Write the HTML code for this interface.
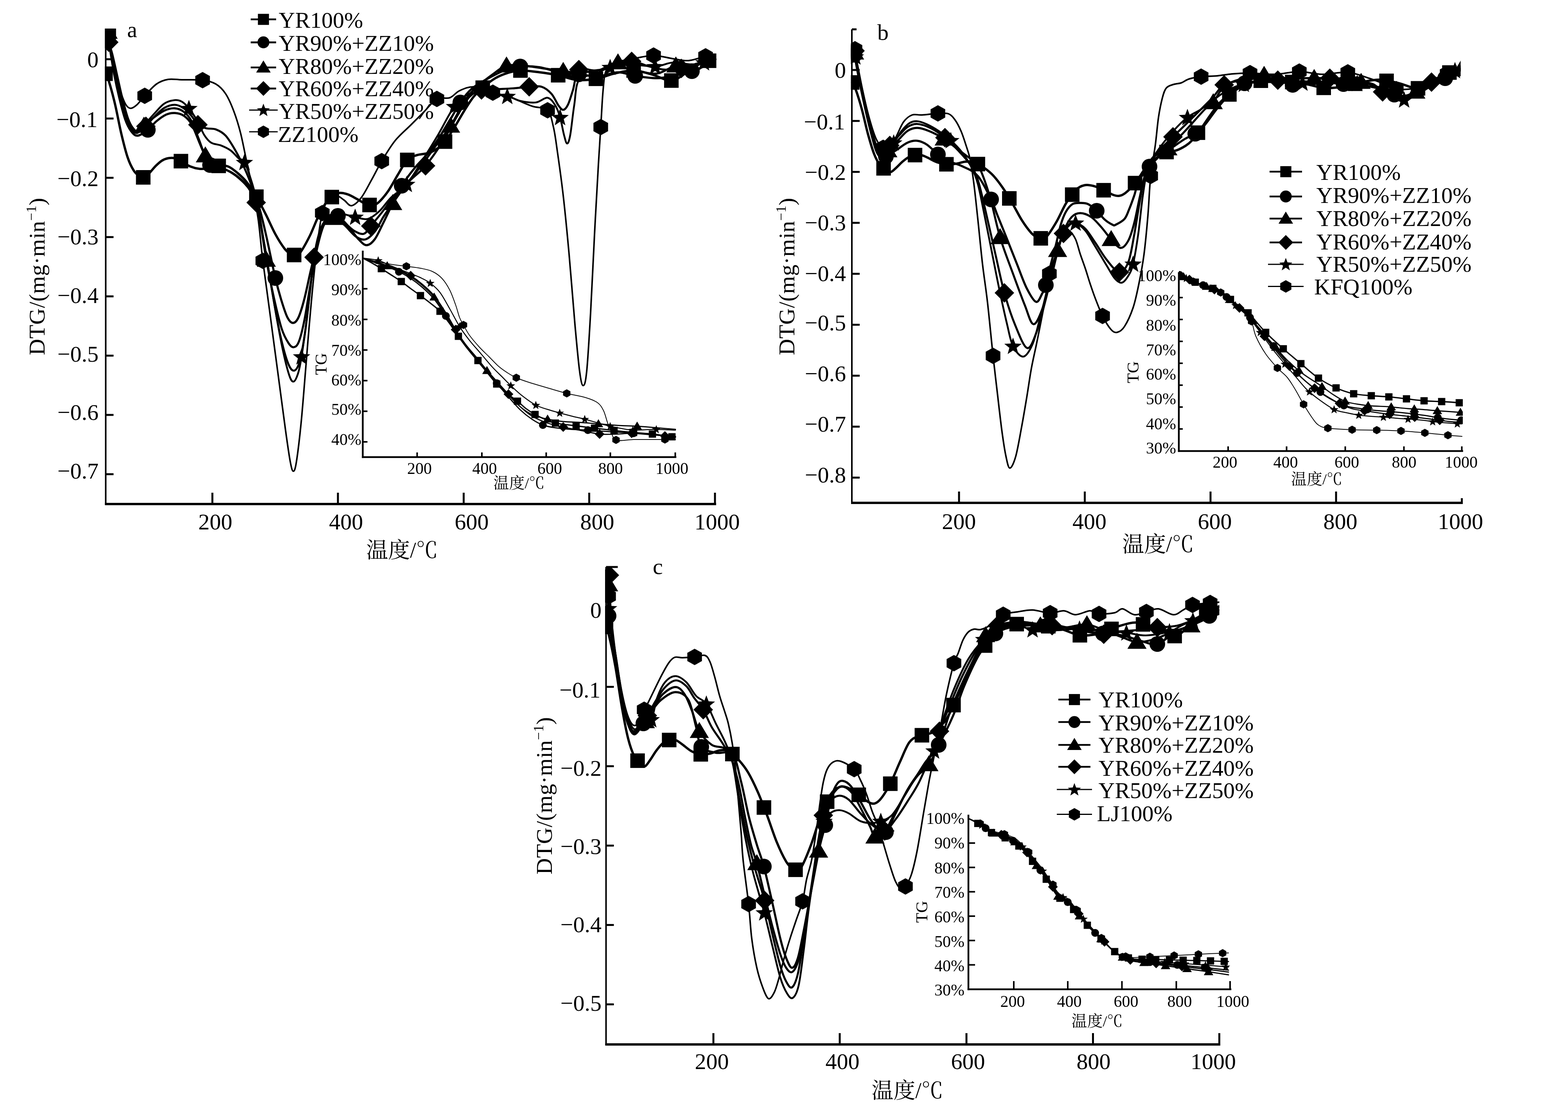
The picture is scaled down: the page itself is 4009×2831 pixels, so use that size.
<!DOCTYPE html>
<html lang="zh">
<head>
<meta charset="utf-8">
<title>DTG / TG</title>
<style>
html,body{margin:0;padding:0;background:#fff;}
body{width:4009px;height:2831px;overflow:hidden;}
svg{display:block;}
text{font-family:'Liberation Serif', 'Noto Serif CJK SC', serif;fill:#000;}
</style>
</head>
<body>
<svg xmlns="http://www.w3.org/2000/svg" width="4009" height="2831" viewBox="0 0 4009 2831">
<rect width="4009" height="2831" fill="#fff"/>
<g stroke="#000" fill="none" stroke-linecap="butt">
<line x1="270.3" y1="76" x2="270.3" y2="1291" stroke-width="4"/>
<line x1="268.3" y1="1289" x2="1831" y2="1289" stroke-width="6"/>
<line x1="543" y1="1289" x2="543" y2="1260" stroke-width="5"/>
<line x1="864" y1="1289" x2="864" y2="1260" stroke-width="5"/>
<line x1="1185.5" y1="1289" x2="1185.5" y2="1260" stroke-width="5"/>
<line x1="1506.5" y1="1289" x2="1506.5" y2="1260" stroke-width="5"/>
<line x1="1828" y1="1289" x2="1828" y2="1260" stroke-width="5"/>
<line x1="270.3" y1="151.5" x2="290.3" y2="151.5" stroke-width="5"/>
<line x1="270.3" y1="303.1" x2="290.3" y2="303.1" stroke-width="5"/>
<line x1="270.3" y1="454.7" x2="290.3" y2="454.7" stroke-width="5"/>
<line x1="270.3" y1="606.3" x2="290.3" y2="606.3" stroke-width="5"/>
<line x1="270.3" y1="757.9" x2="290.3" y2="757.9" stroke-width="5"/>
<line x1="270.3" y1="909.5" x2="290.3" y2="909.5" stroke-width="5"/>
<line x1="270.3" y1="1061.1" x2="290.3" y2="1061.1" stroke-width="5"/>
<line x1="270.3" y1="1212.7" x2="290.3" y2="1212.7" stroke-width="5"/>
</g>
<text x="251.9" y="172" font-size="58" text-anchor="end">0</text>
<text x="249.5" y="325" font-size="58" text-anchor="end">−0.1</text>
<text x="251.9" y="475.5" font-size="58" text-anchor="end">−0.2</text>
<text x="251.9" y="625" font-size="58" text-anchor="end">−0.3</text>
<text x="251.9" y="774.5" font-size="58" text-anchor="end">−0.4</text>
<text x="251.9" y="925" font-size="58" text-anchor="end">−0.5</text>
<text x="251.9" y="1074" font-size="58" text-anchor="end">−0.6</text>
<text x="251.9" y="1224" font-size="58" text-anchor="end">−0.7</text>
<text x="550.4" y="1353.5" font-size="58" text-anchor="middle">200</text>
<text x="884.7" y="1353.5" font-size="58" text-anchor="middle">400</text>
<text x="1206" y="1353.5" font-size="58" text-anchor="middle">600</text>
<text x="1527" y="1353.5" font-size="58" text-anchor="middle">800</text>
<text x="1833.5" y="1353.5" font-size="58" text-anchor="middle">1000</text>
<text x="1028" y="1426" font-size="56" text-anchor="middle">温度/<tspan font-family="Noto Serif CJK SC">℃</tspan></text>
<text x="114" y="707" font-size="58" text-anchor="middle" transform="rotate(-90 114 707)" letter-spacing="0.5">DTG/(mg·min<tspan font-size="36" dy="-22">−1</tspan><tspan dy="22">)</tspan></text>
<text x="325" y="95" font-size="58" text-anchor="start">a</text>
<clipPath id="c1"><rect x="268" y="73" width="1564" height="1216"/></clipPath>
<g clip-path="url(#c1)">
<g stroke="#000" fill="none" stroke-linejoin="round" stroke-linecap="round">
<path d="M269.7 188.6C271.1 191.5 273.7 193.3 277.8 206C281.8 218.8 288.5 242.7 293.8 265.1C299.2 287.6 304.6 318.1 309.9 340.9C315.3 363.6 320.6 385.6 326 401.5C331.3 417.4 336.7 428 342.1 436.3C347.4 444.7 353.6 448.4 358.1 451.5C362.7 454.5 365.4 456 369.4 454.5C373.4 453 377.4 447.4 382.2 442.4C387.1 437.3 393 429.5 398.3 424.2C403.7 418.9 409 413.8 414.4 410.6C419.8 407.3 425.1 405.5 430.5 404.5C435.8 403.5 441.2 403.2 446.5 404.5C451.9 405.8 455.9 408.5 462.6 412.1C469.3 415.6 478.7 422.4 486.7 425.7C494.8 429 502.8 431 510.8 431.8C518.9 432.5 526.9 431.5 535 430.3C543 429 551 425 559.1 424.2C567.1 423.4 575.1 422.7 583.2 425.7C591.2 428.7 599.3 435.6 607.3 442.4C615.3 449.2 623.4 456.5 631.4 466.6C639.4 476.7 647.5 489.3 655.5 503C663.6 516.6 671.6 532.5 679.6 548.4C687.7 564.3 695.7 583.8 703.8 598.4C711.8 613.1 721.2 627.7 727.9 636.3C734.6 644.9 739.4 647.2 743.9 649.9C748.5 652.7 751.2 653.7 755.2 653C759.2 652.2 761.9 653.7 768 645.4C774.2 637.1 784.1 619.1 792.2 603C800.2 586.8 808.2 564.1 816.3 548.4C824.3 532.8 832.3 518.1 840.4 509C848.4 499.9 856.5 495.9 864.5 493.9C872.5 491.9 880.6 494.4 888.6 496.9C896.6 499.4 904.7 504.7 912.7 509C920.8 513.3 930.1 519.9 936.8 522.7C943.5 525.5 947.6 526.7 952.9 525.7C958.3 524.7 962.3 522.9 969 516.6C975.7 510.3 985.1 499.4 993.1 487.8C1001.1 476.2 1009.2 460.1 1017.2 446.9C1025.2 433.8 1033.3 417.4 1041.3 409.1C1049.4 400.7 1056.1 400 1065.4 396.9C1074.8 393.9 1088.2 394.2 1097.6 390.9C1107 387.6 1115 382 1121.7 377.2C1128.4 372.4 1131.1 370.7 1137.8 362.1C1144.5 353.5 1153.8 338.6 1161.9 325.7C1169.9 312.8 1178 297.7 1186 284.8C1194 271.9 1202.1 258.6 1210.1 248.5C1218.1 238.4 1224.8 232.3 1234.2 224.2C1243.6 216.1 1255.7 206.3 1266.4 200C1277.1 193.7 1287.8 189.6 1298.5 186.3C1309.2 183.1 1317.3 180.5 1330.7 180.3C1344.1 180 1362.8 182.8 1378.9 184.8C1395 186.8 1411 189.1 1427.1 192.4C1443.2 195.7 1459.3 203 1475.3 204.5C1491.4 206 1507.5 204.3 1523.6 201.5C1539.7 198.7 1555.7 191.4 1571.8 187.9C1587.9 184.3 1603.9 179.8 1620 180.3C1636.1 180.8 1652.2 186.6 1668.2 190.9C1684.3 195.2 1701.7 207 1716.5 206C1731.2 205 1743.3 192.7 1756.7 184.8C1770.1 177 1784.8 164.6 1796.8 159.1C1808.9 153.5 1823.6 152.8 1829 151.5" stroke-width="6"/>
<path d="M277 95C277.8 100.8 279.5 114.2 282 130C284.5 145.8 288.2 170 292 190C295.8 210 300.3 230.8 305 250C309.7 269.2 315 290.8 320 305C325 319.2 329.7 328 335 335C340.3 342 344.8 347.5 352 347C359.2 346.5 370 338.2 378 332C386 325.8 392.2 316.5 400 310C407.8 303.5 417.2 296.5 425 293C432.8 289.5 439.5 288.5 447 289C454.5 289.5 462.8 291.2 470 296C477.2 300.8 483.3 306.5 490 318C496.7 329.5 504.2 351.3 510 365C515.8 378.7 520.5 390.5 525 400C529.5 409.5 531.2 417.3 537 422C542.8 426.7 551.2 425 560 428C568.8 431 580.8 435 590 440C599.2 445 606.7 450.5 615 458C623.3 465.5 632.5 474.3 640 485C647.5 495.7 653.3 502.8 660 522C666.7 541.2 672.7 568.5 680 600C687.3 631.5 697.3 682.7 704 711C710.7 739.3 714.8 753.2 720 770C725.2 786.8 730.2 802.7 735 812C739.8 821.3 744.3 826 749 826C753.7 826 758.2 822.2 763 812C767.8 801.8 772.7 785.3 778 765C783.3 744.7 789.3 714.2 795 690C800.7 665.8 806.2 640.8 812 620C817.8 599.2 823.7 577 830 565C836.3 553 844.3 550.2 850 548C855.7 545.8 857.3 547 864 552C870.7 557 881.5 568.3 890 578C898.5 587.7 907.2 601.8 915 610C922.8 618.2 929.8 626.7 937 627C944.2 627.3 950.8 621.5 958 612C965.2 602.5 972.3 585.3 980 570C987.7 554.7 996.2 535.8 1004 520C1011.8 504.2 1017.7 490 1027 475C1036.3 460 1047.8 445 1060 430C1072.2 415 1086.7 402.5 1100 385C1113.3 367.5 1127.2 345.5 1140 325C1152.8 304.5 1166.2 278.2 1177 262C1187.8 245.8 1194.5 237.5 1205 228C1215.5 218.5 1225.8 213 1240 205C1254.2 197 1275 185.8 1290 180C1305 174.2 1315 171.3 1330 170C1345 168.7 1363.3 169.5 1380 172C1396.7 174.5 1413.3 182 1430 185C1446.7 188 1463.3 188.3 1480 190C1496.7 191.7 1513.3 195.8 1530 195C1546.7 194.2 1564.3 185.2 1580 185C1595.7 184.8 1607.3 191.5 1624 194C1640.7 196.5 1662.3 200.3 1680 200C1697.7 199.7 1715.2 195 1730 192C1744.8 189 1757.3 185.7 1769 182C1780.7 178.3 1790.2 173.7 1800 170C1809.8 166.3 1823.3 161.7 1828 160" stroke-width="5.5"/>
<path d="M276.5 82C277.8 90.8 280.9 116.7 284 135C287.1 153.3 291 172.8 295 192C299 211.2 303.3 231.7 308 250C312.7 268.3 318.2 288.7 323 302C327.8 315.3 332.3 323.7 337 330C341.7 336.3 345.8 341.3 351 340C356.2 338.7 361.5 328.2 368 322C374.5 315.8 381.3 309.5 390 303C398.7 296.5 410.5 287.3 420 283C429.5 278.7 438.7 276.5 447 277C455.3 277.5 462.8 280.5 470 286C477.2 291.5 483.7 298.5 490 310C496.3 321.5 502.2 340.3 508 355C513.8 369.7 518.8 387.2 525 398C531.2 408.8 535.8 413.8 545 420C554.2 426.2 569.2 429.2 580 435C590.8 440.8 600 446.2 610 455C620 463.8 631.7 473.8 640 488C648.3 502.2 653.2 510.5 660 540C666.8 569.5 674.3 628.3 681 665C687.7 701.7 693.5 730.8 700 760C706.5 789.2 713.7 820.3 720 840C726.3 859.7 732.8 870 738 878C743.2 886 746.7 888.7 751 888C755.3 887.3 759.5 885.3 764 874C768.5 862.7 772.8 845.7 778 820C783.2 794.3 789.3 751.7 795 720C800.7 688.3 806.2 654.7 812 630C817.8 605.3 823 584 830 572C837 560 845.7 557.5 854 558C862.3 558.5 870.7 567.2 880 575C889.3 582.8 900.8 598.8 910 605C919.2 611.2 926.7 614.5 935 612C943.3 609.5 952.5 599.5 960 590C967.5 580.5 972.7 566.7 980 555C987.3 543.3 994 534.2 1004 520C1014 505.8 1027.3 486.7 1040 470C1052.7 453.3 1066.7 437.5 1080 420C1093.3 402.5 1108 381.3 1120 365C1132 348.7 1140.3 340.3 1152 322C1163.7 303.7 1178.7 271.7 1190 255C1201.3 238.3 1208.3 232.8 1220 222C1231.7 211.2 1247.5 199 1260 190C1272.5 181 1281.7 171.7 1295 168C1308.3 164.3 1324.2 166.8 1340 168C1355.8 169.2 1373.3 172.7 1390 175C1406.7 177.3 1425 180.3 1440 182C1455 183.7 1465 185.3 1480 185C1495 184.7 1513.3 184.2 1530 180C1546.7 175.8 1563.3 160 1580 160C1596.7 160 1613.3 175.3 1630 180C1646.7 184.7 1663.7 190 1680 188C1696.3 186 1711.3 171.8 1728 168C1744.7 164.2 1763.3 167.2 1780 165C1796.7 162.8 1820 156.7 1828 155" stroke-width="5.3"/>
<path d="M278 108C279.5 113 283.3 123.5 287 138C290.7 152.5 295.7 176 300 195C304.3 214 308.5 234.2 313 252C317.5 269.8 322.5 289.3 327 302C331.5 314.7 335.5 322 340 328C344.5 334 348.5 338.8 354 338C359.5 337.2 366.2 329.7 373 323C379.8 316.3 387.2 305.8 395 298C402.8 290.2 411.3 281 420 276C428.7 271 438.7 267.8 447 268C455.3 268.2 462.8 272.2 470 277C477.2 281.8 484 290 490 297C496 304 499.8 313.8 506 319C512.2 324.2 519.3 326 527 328C534.7 330 543.7 327.8 552 331C560.3 334.2 568.7 338 577 347C585.3 356 594 371.2 602 385C610 398.8 617.8 414.2 625 430C632.2 445.8 640 465.3 645 480C650 494.7 650 494.7 655 518C660 541.3 668.3 583 675 620C681.7 657 688.3 701.7 695 740C701.7 778.3 708.3 819.2 715 850C721.7 880.8 729 908.7 735 925C741 941.3 745.8 948 751 948C756.2 948 761.2 941.3 766 925C770.8 908.7 775.7 879.2 780 850C784.3 820.8 788.2 782 792 750C795.8 718 799.2 683 803 658C806.8 633 810.5 615.3 815 600C819.5 584.7 824.2 573.5 830 566C835.8 558.5 842.5 555.2 850 555C857.5 554.8 865.8 559.2 875 565C884.2 570.8 895.8 584.5 905 590C914.2 595.5 922.8 600 930 598C937.2 596 940.5 586.8 948 578C955.5 569.2 964.7 558 975 545C985.3 532 997.5 514.2 1010 500C1022.5 485.8 1037 472.7 1050 460C1063 447.3 1074.7 439.8 1088 424C1101.3 408.2 1116.3 386.5 1130 365C1143.7 343.5 1158.3 314.5 1170 295C1181.7 275.5 1189.8 258.8 1200 248C1210.2 237.2 1219.3 233.3 1231 230C1242.7 226.7 1256.8 228.7 1270 228C1283.2 227.3 1296.2 227 1310 226C1323.8 225 1340.5 222.7 1353 222C1365.5 221.3 1375.5 219 1385 222C1394.5 225 1402.8 232 1410 240C1417.2 248 1423 263.2 1428 270C1433 276.8 1436 281.3 1440 281C1444 280.7 1447.8 276.5 1452 268C1456.2 259.5 1460.3 245 1465 230C1469.7 215 1470.8 186.3 1480 178C1489.2 169.7 1505 181 1520 180C1535 179 1554.2 175.8 1570 172C1585.8 168.2 1600 157.3 1615 157C1630 156.7 1645.8 166.5 1660 170C1674.2 173.5 1686.3 177.2 1700 178C1713.7 178.8 1727 178 1742 175C1757 172 1775.7 163.8 1790 160C1804.3 156.2 1821.7 153.3 1828 152" stroke-width="5.2"/>
<path d="M277 100C278.3 106 281.7 120.5 285 136C288.3 151.5 292.8 174 297 193C301.2 212 305.3 232.2 310 250C314.7 267.8 320.2 287.3 325 300C329.8 312.7 334.5 320.2 339 326C343.5 331.8 346.8 336.3 352 335C357.2 333.7 362.8 325.5 370 318C377.2 310.5 386.7 298.8 395 290C403.3 281.2 411.3 270.7 420 265C428.7 259.3 439.5 256.8 447 256C454.5 255.2 459 256.5 465 260C471 263.5 476.3 268.7 483 277C489.7 285.3 498.5 298.7 505 310C511.5 321.3 516.2 335.8 522 345C527.8 354.2 532.8 360.5 540 365C547.2 369.5 556.7 368.7 565 372C573.3 375.3 582.5 379.5 590 385C597.5 390.5 604.2 400 610 405C615.8 410 619.2 404.2 625 415C630.8 425.8 639.2 450.8 645 470C650.8 489.2 654.2 500 660 530C665.8 560 673.3 610 680 650C686.7 690 693.3 731.7 700 770C706.7 808.3 713.7 849.2 720 880C726.3 910.8 733 939 738 955C743 971 746 976 750 976C754 976 758.5 965.7 762 955C765.5 944.3 767.2 936.2 771 912C774.8 887.8 780.5 845.3 785 810C789.5 774.7 793.5 731.7 798 700C802.5 668.3 806.7 641.7 812 620C817.3 598.3 822.8 582.5 830 570C837.2 557.5 846.7 548.7 855 545C863.3 541.3 871.2 546.3 880 548C888.8 549.7 898 553 908 555C918 557 929.7 562.5 940 560C950.3 557.5 960 549.2 970 540C980 530.8 988.3 516.5 1000 505C1011.7 493.5 1026.7 486.8 1040 471C1053.3 455.2 1066.7 431 1080 410C1093.3 389 1106.3 368 1120 345C1133.7 322 1148.7 289.5 1162 272C1175.3 254.5 1187 245.3 1200 240C1213 234.7 1223.8 239 1240 240C1256.2 241 1282 243 1297 246C1312 249 1317.8 255.3 1330 258C1342.2 260.7 1358.3 263.3 1370 262C1381.7 260.7 1391.7 248.7 1400 250C1408.3 251.3 1414.7 261.7 1420 270C1425.3 278.3 1428.3 287.5 1432 300C1435.7 312.5 1439 333.8 1442 345C1445 356.2 1447.3 367 1450 367C1452.7 367 1455 361.2 1458 345C1461 328.8 1464.3 293.3 1468 270C1471.7 246.7 1471.3 218.3 1480 205C1488.7 191.7 1506.7 195.5 1520 190C1533.3 184.5 1545 176.2 1560 172C1575 167.8 1590.8 165.3 1610 165C1629.2 164.7 1656.7 170.8 1675 170C1693.3 169.2 1704.2 160.8 1720 160C1735.8 159.2 1756.7 165 1770 165C1783.3 165 1790.3 161.7 1800 160C1809.7 158.3 1823.3 155.8 1828 155" stroke-width="4.7"/>
<path d="M278 80C278.8 88.3 280.2 111.7 283 130C285.8 148.3 290.5 171.7 295 190C299.5 208.3 305.5 227 310 240C314.5 253 318 261.8 322 268C326 274.2 329.3 277 334 277C338.7 277 344 273.3 350 268C356 262.7 361.7 253.8 370 245C378.3 236.2 390 222 400 215C410 208 419.2 204.8 430 203C440.8 201.2 450.3 203.7 465 204C479.7 204.3 503.5 203.2 518 205C532.5 206.8 542.2 209.2 552 215C561.8 220.8 569.3 228.3 577 240C584.7 251.7 591.7 268.3 598 285C604.3 301.7 609.7 319.2 615 340C620.3 360.8 625 386.7 630 410C635 433.3 640 455 645 480C650 505 655.5 528.8 660 560C664.5 591.2 667 627 672 667C677 707 683.7 752.8 690 800C696.3 847.2 703.3 900 710 950C716.7 1000 724.7 1061.7 730 1100C735.3 1138.3 738.7 1162.5 742 1180C745.3 1197.5 747.3 1205 750 1205C752.7 1205 754.7 1200.8 758 1180C761.3 1159.2 766.2 1118.3 770 1080C773.8 1041.7 777.7 990 781 950C784.3 910 786.8 876.7 790 840C793.2 803.3 796.3 766.7 800 730C803.7 693.3 808 650.8 812 620C816 589.2 819.3 563.3 824 545C828.7 526.7 834 517.5 840 510C846 502.5 853.3 499.7 860 500C866.7 500.3 873.5 507.7 880 512C886.5 516.3 891.7 527.2 899 526C906.3 524.8 915.5 516 924 505C932.5 494 941.3 475.5 950 460C958.7 444.5 966 428.7 976 412C986 395.3 997.7 375.3 1010 360C1022.3 344.7 1037.5 332.5 1050 320C1062.5 307.5 1073.8 296.2 1085 285C1096.2 273.8 1106.2 258.8 1117 253C1127.8 247.2 1140.3 253.5 1150 250C1159.7 246.5 1164.7 236.7 1175 232C1185.3 227.3 1197.8 221.2 1212 222C1226.2 222.8 1246.2 233.2 1260 237C1273.8 240.8 1284.2 241.7 1295 245C1305.8 248.3 1313.8 252.5 1325 257C1336.2 261.5 1349.5 267.8 1362 272C1374.5 276.2 1391.2 273.2 1400 282C1408.8 290.8 1410.8 307.5 1415 325C1419.2 342.5 1420.8 357.8 1425 387C1429.2 416.2 1435 456.2 1440 500C1445 543.8 1450 595 1455 650C1460 705 1465.5 780 1470 830C1474.5 880 1478.5 924 1482 950C1485.5 976 1488 986 1491 986C1494 986 1496.8 981 1500 950C1503.2 919 1506.7 858.3 1510 800C1513.3 741.7 1516.7 663.3 1520 600C1523.3 536.7 1527.3 465.8 1530 420C1532.7 374.2 1534 356.7 1536 325C1538 293.3 1539.7 254.2 1542 230C1544.3 205.8 1544.5 191.7 1550 180C1555.5 168.3 1563.3 165 1575 160C1586.7 155 1604 153 1620 150C1636 147 1654.3 142 1671 142C1687.7 142 1705.2 147.8 1720 150C1734.8 152.2 1746 156 1760 155C1774 154 1792.7 146.5 1804 144C1815.3 141.5 1824 140.7 1828 140" stroke-width="4"/>
</g>
<g fill="#000">
<rect x="251.1" y="170" width="37.2" height="37.2"/>
<rect x="347.6" y="435" width="37.2" height="37.2"/>
<rect x="444" y="393.5" width="37.2" height="37.2"/>
<rect x="540.5" y="405.6" width="37.2" height="37.2"/>
<rect x="636.9" y="484.4" width="37.2" height="37.2"/>
<rect x="733.4" y="633.5" width="37.2" height="37.2"/>
<rect x="829.8" y="485.4" width="37.2" height="37.2"/>
<rect x="926.3" y="505.6" width="37.2" height="37.2"/>
<rect x="1022.7" y="390.4" width="37.2" height="37.2"/>
<rect x="1119.2" y="343.5" width="37.2" height="37.2"/>
<rect x="1215.6" y="205.6" width="37.2" height="37.2"/>
<rect x="1312.1" y="161.7" width="37.2" height="37.2"/>
<rect x="1408.5" y="173.8" width="37.2" height="37.2"/>
<rect x="1505" y="182.9" width="37.2" height="37.2"/>
<rect x="1601.4" y="161.7" width="37.2" height="37.2"/>
<rect x="1697.9" y="187.4" width="37.2" height="37.2"/>
<rect x="1794.3" y="136.7" width="37.2" height="37.2"/>
<circle cx="277" cy="95" r="20"/>
<circle cx="378" cy="332" r="20"/>
<circle cx="537" cy="422" r="20"/>
<circle cx="704" cy="711" r="20"/>
<circle cx="864" cy="552" r="20"/>
<circle cx="1027" cy="475" r="20"/>
<circle cx="1177" cy="262" r="20"/>
<circle cx="1330" cy="170" r="20"/>
<circle cx="1480" cy="190" r="20"/>
<circle cx="1624" cy="194" r="20"/>
<circle cx="1769" cy="182" r="20"/>
<polygon points="276.5,58.2 301,99.2 252,99.2"/>
<polygon points="368,298.2 392.5,339.2 343.5,339.2"/>
<polygon points="525,374.2 549.5,415.2 500.5,415.2"/>
<polygon points="681,641.2 705.5,682.2 656.5,682.2"/>
<polygon points="854,534.2 878.5,575.2 829.5,575.2"/>
<polygon points="1004,496.2 1028.5,537.2 979.5,537.2"/>
<polygon points="1152,298.2 1176.5,339.2 1127.5,339.2"/>
<polygon points="1295,144.2 1319.5,185.2 1270.5,185.2"/>
<polygon points="1440,158.2 1464.5,199.2 1415.5,199.2"/>
<polygon points="1580,136.2 1604.5,177.2 1555.5,177.2"/>
<polygon points="1728,144.2 1752.5,185.2 1703.5,185.2"/>
<polygon points="278,83 303,108 278,133 253,108"/>
<polygon points="373,298 398,323 373,348 348,323"/>
<polygon points="506,294 531,319 506,344 481,319"/>
<polygon points="655,493 680,518 655,543 630,518"/>
<polygon points="803,633 828,658 803,683 778,658"/>
<polygon points="948,553 973,578 948,603 923,578"/>
<polygon points="1088,399 1113,424 1088,449 1063,424"/>
<polygon points="1231,205 1256,230 1231,255 1206,230"/>
<polygon points="1353,197 1378,222 1353,247 1328,222"/>
<polygon points="1480,153 1505,178 1480,203 1455,178"/>
<polygon points="1615,132 1640,157 1615,182 1590,157"/>
<polygon points="1742,150 1767,175 1742,200 1717,175"/>
<polygon points="277,78.2 282.8,93.6 299.2,94.3 286.3,104.5 290.7,120.4 277,111.3 263.3,120.4 267.7,104.5 254.8,94.3 271.2,93.6"/>
<polygon points="483,255.2 488.8,270.6 505.2,271.3 492.3,281.5 496.7,297.4 483,288.3 469.3,297.4 473.7,281.5 460.8,271.3 477.2,270.6"/>
<polygon points="625,393.2 630.8,408.6 647.2,409.3 634.3,419.5 638.7,435.4 625,426.3 611.3,435.4 615.7,419.5 602.8,409.3 619.2,408.6"/>
<polygon points="771,890.2 776.8,905.6 793.2,906.3 780.3,916.5 784.7,932.4 771,923.3 757.3,932.4 761.7,916.5 748.8,906.3 765.2,905.6"/>
<polygon points="908,533.2 913.8,548.6 930.2,549.3 917.3,559.5 921.7,575.4 908,566.3 894.3,575.4 898.7,559.5 885.8,549.3 902.2,548.6"/>
<polygon points="1040,449.2 1045.8,464.6 1062.2,465.3 1049.3,475.5 1053.7,491.4 1040,482.3 1026.3,491.4 1030.7,475.5 1017.8,465.3 1034.2,464.6"/>
<polygon points="1162,250.2 1167.8,265.6 1184.2,266.3 1171.3,276.5 1175.7,292.4 1162,283.3 1148.3,292.4 1152.7,276.5 1139.8,266.3 1156.2,265.6"/>
<polygon points="1297,224.2 1302.8,239.6 1319.2,240.3 1306.3,250.5 1310.7,266.4 1297,257.3 1283.3,266.4 1287.7,250.5 1274.8,240.3 1291.2,239.6"/>
<polygon points="1432,278.2 1437.8,293.6 1454.2,294.3 1441.3,304.5 1445.7,320.4 1432,311.3 1418.3,320.4 1422.7,304.5 1409.8,294.3 1426.2,293.6"/>
<polygon points="1560,150.2 1565.8,165.6 1582.2,166.3 1569.3,176.5 1573.7,192.4 1560,183.3 1546.3,192.4 1550.7,176.5 1537.8,166.3 1554.2,165.6"/>
<polygon points="1675,148.2 1680.8,163.6 1697.2,164.3 1684.3,174.5 1688.7,190.4 1675,181.3 1661.3,190.4 1665.7,174.5 1652.8,164.3 1669.2,163.6"/>
<polygon points="1800,138.2 1805.8,153.6 1822.2,154.3 1809.3,164.5 1813.7,180.4 1800,171.3 1786.3,180.4 1790.7,164.5 1777.8,154.3 1794.2,153.6"/>
<polygon points="278,59 296.7,69.5 296.7,90.5 278,101 259.3,90.5 259.3,69.5"/>
<polygon points="370,224 388.7,234.5 388.7,255.5 370,266 351.3,255.5 351.3,234.5"/>
<polygon points="518,184 536.7,194.5 536.7,215.5 518,226 499.3,215.5 499.3,194.5"/>
<polygon points="672,646 690.7,656.5 690.7,677.5 672,688 653.3,677.5 653.3,656.5"/>
<polygon points="824,524 842.7,534.5 842.7,555.5 824,566 805.3,555.5 805.3,534.5"/>
<polygon points="976,391 994.7,401.5 994.7,422.5 976,433 957.3,422.5 957.3,401.5"/>
<polygon points="1117,232 1135.7,242.5 1135.7,263.5 1117,274 1098.3,263.5 1098.3,242.5"/>
<polygon points="1260,216 1278.7,226.5 1278.7,247.5 1260,258 1241.3,247.5 1241.3,226.5"/>
<polygon points="1400,261 1418.7,271.5 1418.7,292.5 1400,303 1381.3,292.5 1381.3,271.5"/>
<polygon points="1536,304 1554.7,314.5 1554.7,335.5 1536,346 1517.3,335.5 1517.3,314.5"/>
<polygon points="1671,121 1689.7,131.5 1689.7,152.5 1671,163 1652.3,152.5 1652.3,131.5"/>
<polygon points="1804,123 1822.7,133.5 1822.7,154.5 1804,165 1785.3,154.5 1785.3,133.5"/>
</g>
</g>
<g stroke="#000" fill="none">
<line x1="641" y1="49.5" x2="706" y2="49.5" stroke-width="4.7"/>
<line x1="641" y1="108.3" x2="706" y2="108.3" stroke-width="4.7"/>
<line x1="641" y1="172.5" x2="706" y2="172.5" stroke-width="4.7"/>
<line x1="641" y1="226.3" x2="706" y2="226.3" stroke-width="4.7"/>
<line x1="637" y1="281.5" x2="710" y2="281.5" stroke-width="2.8"/>
<line x1="637" y1="337" x2="710" y2="337" stroke-width="2.8"/>
</g>
<g fill="#000">
<rect x="659.4" y="35.4" width="28.3" height="28.3"/>
<circle cx="673.5" cy="108.3" r="15.2"/>
<polygon points="673.5,154.4 692.1,185.6 654.9,185.6"/>
<polygon points="673.5,207.3 692.5,226.3 673.5,245.3 654.5,226.3"/>
<polygon points="673.5,264.9 677.9,276.6 690.3,277.2 680.6,284.9 683.9,297 673.5,290.1 663.1,297 666.4,284.9 656.7,277.2 669.1,276.6"/>
<polygon points="673.5,321 687.7,329 687.7,345 673.5,353 659.3,345 659.3,329"/>
</g>
<text x="712.5" y="71.2" font-size="58" text-anchor="start">YR100%</text>
<text x="712.5" y="130.2" font-size="58" text-anchor="start">YR90%+ZZ10%</text>
<text x="712.5" y="188.8" font-size="58" text-anchor="start">YR80%+ZZ20%</text>
<text x="712.5" y="246.2" font-size="58" text-anchor="start">YR60%+ZZ40%</text>
<text x="712.5" y="303.5" font-size="58" text-anchor="start">YR50%+ZZ50%</text>
<text x="710.5" y="362.5" font-size="58" text-anchor="start">ZZ100%</text>
<g stroke="#000" fill="none" stroke-linecap="butt">
<line x1="927.5" y1="641" x2="927.5" y2="1171.2" stroke-width="4.5"/>
<line x1="925.2" y1="1169" x2="1729.2" y2="1169" stroke-width="4.5"/>
<line x1="1066.5" y1="1169" x2="1066.5" y2="1157" stroke-width="4"/>
<line x1="1232" y1="1169" x2="1232" y2="1157" stroke-width="4"/>
<line x1="1396.5" y1="1169" x2="1396.5" y2="1157" stroke-width="4"/>
<line x1="1560.5" y1="1169" x2="1560.5" y2="1157" stroke-width="4"/>
<line x1="1726.5" y1="1169" x2="1726.5" y2="1157" stroke-width="4"/>
<line x1="927.5" y1="738.5" x2="939.5" y2="738.5" stroke-width="4"/>
<line x1="927.5" y1="816.8" x2="939.5" y2="816.8" stroke-width="4"/>
<line x1="927.5" y1="895.1" x2="939.5" y2="895.1" stroke-width="4"/>
<line x1="927.5" y1="973.4" x2="939.5" y2="973.4" stroke-width="4"/>
<line x1="927.5" y1="1051.7" x2="939.5" y2="1051.7" stroke-width="4"/>
<line x1="927.5" y1="1130" x2="939.5" y2="1130" stroke-width="4"/>
</g>
<text x="924" y="678" font-size="42" text-anchor="end">100%</text>
<text x="924" y="755" font-size="42" text-anchor="end">90%</text>
<text x="924" y="832.5" font-size="42" text-anchor="end">80%</text>
<text x="924" y="909.5" font-size="42" text-anchor="end">70%</text>
<text x="924" y="986" font-size="42" text-anchor="end">60%</text>
<text x="924" y="1061" font-size="42" text-anchor="end">50%</text>
<text x="924" y="1137.5" font-size="42" text-anchor="end">40%</text>
<text x="1072.5" y="1212" font-size="42" text-anchor="middle">200</text>
<text x="1239" y="1212" font-size="42" text-anchor="middle">400</text>
<text x="1405.5" y="1212" font-size="42" text-anchor="middle">600</text>
<text x="1561" y="1212" font-size="42" text-anchor="middle">800</text>
<text x="1718" y="1212" font-size="42" text-anchor="middle">1000</text>
<text x="1327" y="1249" font-size="40" text-anchor="middle">温度/<tspan font-family="Noto Serif CJK SC">℃</tspan></text>
<text x="835" y="931" font-size="42" text-anchor="middle" transform="rotate(-90 835 931)">TG</text>
<clipPath id="c2"><rect x="927.5" y="600" width="801.5" height="569"/></clipPath>
<g clip-path="url(#c2)">
<g stroke="#000" fill="none" stroke-linejoin="round" stroke-linecap="round">
<path d="M927.5 660C931.2 662 942.1 667.5 950 672C957.9 676.5 966.7 681.8 975 687C983.3 692.2 991.5 697.5 1000 703C1008.5 708.5 1017.7 714.2 1026 720C1034.3 725.8 1041.8 732 1050 738C1058.2 744 1066.7 749.8 1075 756C1083.3 762.2 1091.7 768.3 1100 775C1108.3 781.7 1116.7 787.2 1125 796C1133.3 804.8 1142.2 817.3 1150 828C1157.8 838.7 1164.2 849.3 1172 860C1179.8 870.7 1188.7 881.7 1197 892C1205.3 902.3 1213.8 911.8 1222 922C1230.2 932.2 1238 943 1246 953C1254 963 1261.7 973.2 1270 982C1278.3 990.8 1287.2 998.7 1296 1006C1304.8 1013.3 1314.8 1019.5 1323 1026C1331.2 1032.5 1337.5 1039.3 1345 1045C1352.5 1050.7 1359.7 1055.3 1368 1060C1376.3 1064.7 1386.3 1069.3 1395 1073C1403.7 1076.7 1407 1079.3 1420 1082C1433 1084.7 1456.3 1086.8 1473 1089C1489.7 1091.2 1503.8 1093 1520 1095C1536.2 1097 1553.3 1099.2 1570 1101C1586.7 1102.8 1603.7 1104.5 1620 1106C1636.3 1107.5 1651.7 1108.2 1668 1110C1684.3 1111.8 1708.2 1115.7 1718 1117C1727.8 1118.3 1725.5 1117.8 1727 1118" stroke-width="3.3"/>
<path d="M927.5 660C932.9 662 949.6 668.3 960 672C970.4 675.7 980 678.2 990 682C1000 685.8 1010 690 1020 695C1030 700 1040 705.3 1050 712C1060 718.7 1070 726.2 1080 735C1090 743.8 1100 752.8 1110 765C1120 777.2 1130.8 793.8 1140 808C1149.2 822.2 1156.7 837.2 1165 850C1173.3 862.8 1180.8 873 1190 885C1199.2 897 1210.8 910.8 1220 922C1229.2 933.2 1236.7 942.3 1245 952C1253.3 961.7 1260.8 969.5 1270 980C1279.2 990.5 1290 1003.7 1300 1015C1310 1026.3 1320 1038.5 1330 1048C1340 1057.5 1350.3 1065.5 1360 1072C1369.7 1078.5 1378 1083.3 1388 1087C1398 1090.7 1408 1092.2 1420 1094C1432 1095.8 1446.2 1097 1460 1098C1473.8 1099 1486.3 1099 1503 1100C1519.7 1101 1540.5 1102.7 1560 1104C1579.5 1105.3 1600 1106.5 1620 1108C1640 1109.5 1662.2 1111.7 1680 1113C1697.8 1114.3 1719.2 1115.5 1727 1116" stroke-width="3"/>
<path d="M927.5 660C932.9 661.7 949.6 666.7 960 670C970.4 673.3 980 676.3 990 680C1000 683.7 1010 687.3 1020 692C1030 696.7 1040 701.7 1050 708C1060 714.3 1070 721.3 1080 730C1090 738.7 1100 747.8 1110 760C1120 772.2 1130.8 788.7 1140 803C1149.2 817.3 1156.7 832.8 1165 846C1173.3 859.2 1180.8 870 1190 882C1199.2 894 1210.8 907 1220 918C1229.2 929 1236.7 938.3 1245 948C1253.3 957.7 1260.8 965.7 1270 976C1279.2 986.3 1290 999.3 1300 1010C1310 1020.7 1320 1031.7 1330 1040C1340 1048.3 1348.3 1054.7 1360 1060C1371.7 1065.3 1386.7 1069 1400 1072C1413.3 1075 1426.7 1076.7 1440 1078C1453.3 1079.3 1465 1079 1480 1080C1495 1081 1513.3 1082.7 1530 1084C1546.7 1085.3 1563.5 1087 1580 1088C1596.5 1089 1612.3 1089 1629 1090C1645.7 1091 1663.7 1092.7 1680 1094C1696.3 1095.3 1719.2 1097.3 1727 1098" stroke-width="2.9"/>
<path d="M927.5 660C932.9 661.5 949.6 665.8 960 669C970.4 672.2 980 675.5 990 679C1000 682.5 1010 685.7 1020 690C1030 694.3 1040 698.8 1050 705C1060 711.2 1070 718.5 1080 727C1090 735.5 1100 743.8 1110 756C1120 768.2 1130.8 785.5 1140 800C1149.2 814.5 1156.7 829.7 1165 843C1173.3 856.3 1180.8 867.8 1190 880C1199.2 892.2 1210.8 904.8 1220 916C1229.2 927.2 1236.7 937.2 1245 947C1253.3 956.8 1260.8 964.8 1270 975C1279.2 985.2 1290 997.2 1300 1008C1310 1018.8 1320 1030.7 1330 1040C1340 1049.3 1348.3 1057 1360 1064C1371.7 1071 1386.7 1077.3 1400 1082C1413.3 1086.7 1426.7 1089 1440 1092C1453.3 1095 1464.5 1097 1480 1100C1495.5 1103 1516.3 1108.3 1533 1110C1549.7 1111.7 1566.3 1110.3 1580 1110C1593.7 1109.7 1601.7 1108 1615 1108C1628.3 1108 1645.8 1108.8 1660 1110C1674.2 1111.2 1688.8 1113.8 1700 1115C1711.2 1116.2 1722.5 1116.7 1727 1117" stroke-width="2.8"/>
<path d="M927.5 660C934.1 661 954.9 662.7 967 666C979.1 669.3 987.8 675 1000 680C1012.2 685 1027.5 691 1040 696C1052.5 701 1065 705.3 1075 710C1085 714.7 1091.7 717.7 1100 724C1108.3 730.3 1116.7 737 1125 748C1133.3 759 1141.7 775.5 1150 790C1158.3 804.5 1166.7 821.7 1175 835C1183.3 848.3 1190.8 858.3 1200 870C1209.2 881.7 1220 893.3 1230 905C1240 916.7 1250.8 930 1260 940C1269.2 950 1277.3 957.3 1285 965C1292.7 972.7 1297.7 978.2 1306 986C1314.3 993.8 1324.3 1003.7 1335 1012C1345.7 1020.3 1359.2 1030.2 1370 1036C1380.8 1041.8 1389.8 1043.7 1400 1047C1410.2 1050.3 1420.2 1053 1431 1056C1441.8 1059 1454.3 1062.3 1465 1065C1475.7 1067.7 1484.2 1069.2 1495 1072C1505.8 1074.8 1519.2 1079 1530 1082C1540.8 1085 1550 1087.7 1560 1090C1570 1092.3 1580.3 1094.3 1590 1096C1599.7 1097.7 1608 1099.5 1618 1100C1628 1100.5 1640 1099.3 1650 1099C1660 1098.7 1665.2 1097.8 1678 1098C1690.8 1098.2 1718.8 1099.7 1727 1100" stroke-width="2.5"/>
<path d="M927.5 660C932.9 661.3 947.9 665.3 960 668C972.1 670.7 986.8 673.8 1000 676C1013.2 678.2 1026.5 679.3 1039 681C1051.5 682.7 1064 683.8 1075 686C1086 688.2 1095.8 689.7 1105 694C1114.2 698.3 1122.5 704 1130 712C1137.5 720 1144.2 730.7 1150 742C1155.8 753.3 1160.8 768.3 1165 780C1169.2 791.7 1171.7 803.5 1175 812C1178.3 820.5 1180.8 823.5 1185 831C1189.2 838.5 1193.3 847.7 1200 857C1206.7 866.3 1216.7 877.8 1225 887C1233.3 896.2 1241.7 903.7 1250 912C1258.3 920.3 1266.7 929.8 1275 937C1283.3 944.2 1292.5 950.2 1300 955C1307.5 959.8 1311.7 962.3 1320 966C1328.3 969.7 1336.7 972.7 1350 977C1363.3 981.3 1383.5 987.2 1400 992C1416.5 996.8 1432.7 1001.8 1449 1006C1465.3 1010.2 1484.8 1013 1498 1017C1511.2 1021 1520.5 1024.5 1528 1030C1535.5 1035.5 1538.8 1041.7 1543 1050C1547.2 1058.3 1550.2 1072.2 1553 1080C1555.8 1087.8 1556.3 1089.5 1560 1097C1563.7 1104.5 1565 1120.5 1575 1125C1585 1129.5 1605.8 1124.2 1620 1124C1634.2 1123.8 1646.7 1124 1660 1124C1673.3 1124 1688.8 1124 1700 1124C1711.2 1124 1722.5 1124 1727 1124" stroke-width="2"/>
</g>
<g fill="#000">
<rect x="965.7" y="677.7" width="18.6" height="18.6"/>
<rect x="1016.7" y="710.7" width="18.6" height="18.6"/>
<rect x="1065.7" y="746.7" width="18.6" height="18.6"/>
<rect x="1115.7" y="786.7" width="18.6" height="18.6"/>
<rect x="1162.7" y="850.7" width="18.6" height="18.6"/>
<rect x="1212.7" y="912.7" width="18.6" height="18.6"/>
<rect x="1260.7" y="972.7" width="18.6" height="18.6"/>
<rect x="1313.7" y="1016.7" width="18.6" height="18.6"/>
<rect x="1358.7" y="1050.7" width="18.6" height="18.6"/>
<rect x="1410.7" y="1072.7" width="18.6" height="18.6"/>
<rect x="1463.7" y="1079.7" width="18.6" height="18.6"/>
<rect x="1510.7" y="1085.7" width="18.6" height="18.6"/>
<rect x="1560.7" y="1091.7" width="18.6" height="18.6"/>
<rect x="1610.7" y="1096.7" width="18.6" height="18.6"/>
<rect x="1658.7" y="1100.7" width="18.6" height="18.6"/>
<rect x="1708.7" y="1107.7" width="18.6" height="18.6"/>
<circle cx="1020" cy="695" r="10"/>
<circle cx="1140" cy="808" r="10"/>
<circle cx="1270" cy="980" r="10"/>
<circle cx="1388" cy="1087" r="10"/>
<circle cx="1503" cy="1100" r="10"/>
<circle cx="1620" cy="1108" r="10"/>
<polygon points="990,668.1 1002.2,688.6 977.8,688.6"/>
<polygon points="1110,748.1 1122.2,768.6 1097.8,768.6"/>
<polygon points="1245,936.1 1257.2,956.6 1232.8,956.6"/>
<polygon points="1400,1060.1 1412.2,1080.6 1387.8,1080.6"/>
<polygon points="1530,1072.1 1542.2,1092.6 1517.8,1092.6"/>
<polygon points="1629,1078.1 1641.2,1098.6 1616.8,1098.6"/>
<polygon points="1050,692.5 1062.5,705 1050,717.5 1037.5,705"/>
<polygon points="1165,830.5 1177.5,843 1165,855.5 1152.5,843"/>
<polygon points="1300,995.5 1312.5,1008 1300,1020.5 1287.5,1008"/>
<polygon points="1440,1079.5 1452.5,1092 1440,1104.5 1427.5,1092"/>
<polygon points="1533,1097.5 1545.5,1110 1533,1122.5 1520.5,1110"/>
<polygon points="1615,1095.5 1627.5,1108 1615,1120.5 1602.5,1108"/>
<polygon points="1700,1102.5 1712.5,1115 1700,1127.5 1687.5,1115"/>
<polygon points="967,655.1 969.9,662.8 978.1,663.1 971.7,668.3 973.8,676.2 967,671.6 960.2,676.2 962.3,668.3 955.9,663.1 964.1,662.8"/>
<polygon points="1100,713.1 1102.9,720.8 1111.1,721.1 1104.7,726.3 1106.8,734.2 1100,729.6 1093.2,734.2 1095.3,726.3 1088.9,721.1 1097.1,720.8"/>
<polygon points="1175,824.1 1177.9,831.8 1186.1,832.1 1179.7,837.3 1181.8,845.2 1175,840.6 1168.2,845.2 1170.3,837.3 1163.9,832.1 1172.1,831.8"/>
<polygon points="1306,975.1 1308.9,982.8 1317.1,983.1 1310.7,988.3 1312.8,996.2 1306,991.6 1299.2,996.2 1301.3,988.3 1294.9,983.1 1303.1,982.8"/>
<polygon points="1370,1025.1 1372.9,1032.8 1381.1,1033.1 1374.7,1038.3 1376.8,1046.2 1370,1041.6 1363.2,1046.2 1365.3,1038.3 1358.9,1033.1 1367.1,1032.8"/>
<polygon points="1431,1045.1 1433.9,1052.8 1442.1,1053.1 1435.7,1058.3 1437.8,1066.2 1431,1061.6 1424.2,1066.2 1426.3,1058.3 1419.9,1053.1 1428.1,1052.8"/>
<polygon points="1495,1061.1 1497.9,1068.8 1506.1,1069.1 1499.7,1074.3 1501.8,1082.2 1495,1077.6 1488.2,1082.2 1490.3,1074.3 1483.9,1069.1 1492.1,1068.8"/>
<polygon points="1560,1079.1 1562.9,1086.8 1571.1,1087.1 1564.7,1092.3 1566.8,1100.2 1560,1095.6 1553.2,1100.2 1555.3,1092.3 1548.9,1087.1 1557.1,1086.8"/>
<polygon points="1618,1089.1 1620.9,1096.8 1629.1,1097.1 1622.7,1102.3 1624.8,1110.2 1618,1105.6 1611.2,1110.2 1613.3,1102.3 1606.9,1097.1 1615.1,1096.8"/>
<polygon points="1678,1087.1 1680.9,1094.8 1689.1,1095.1 1682.7,1100.3 1684.8,1108.2 1678,1103.6 1671.2,1108.2 1673.3,1100.3 1666.9,1095.1 1675.1,1094.8"/>
<polygon points="1039,670.5 1048.4,675.8 1048.4,686.2 1039,691.5 1029.6,686.2 1029.6,675.8"/>
<polygon points="1185,820.5 1194.4,825.8 1194.4,836.2 1185,841.5 1175.6,836.2 1175.6,825.8"/>
<polygon points="1320,955.5 1329.4,960.8 1329.4,971.2 1320,976.5 1310.6,971.2 1310.6,960.8"/>
<polygon points="1449,995.5 1458.4,1000.8 1458.4,1011.2 1449,1016.5 1439.6,1011.2 1439.6,1000.8"/>
<polygon points="1575,1114.5 1584.4,1119.8 1584.4,1130.2 1575,1135.5 1565.6,1130.2 1565.6,1119.8"/>
<polygon points="1700,1113.5 1709.4,1118.8 1709.4,1129.2 1700,1134.5 1690.6,1129.2 1690.6,1118.8"/>
</g>
</g>
<g stroke="#000" fill="none" stroke-linecap="butt">
<line x1="2178" y1="75" x2="2178" y2="1288" stroke-width="4"/>
<line x1="2176" y1="1286" x2="3740" y2="1286" stroke-width="6"/>
<line x1="2452" y1="1286" x2="2452" y2="1257" stroke-width="5"/>
<line x1="2773.5" y1="1286" x2="2773.5" y2="1257" stroke-width="5"/>
<line x1="3095" y1="1286" x2="3095" y2="1257" stroke-width="5"/>
<line x1="3416" y1="1286" x2="3416" y2="1257" stroke-width="5"/>
<line x1="3737.5" y1="1286" x2="3737.5" y2="1274" stroke-width="5"/>
<line x1="2178" y1="75" x2="2190" y2="75" stroke-width="5"/>
<line x1="2178" y1="179" x2="2198" y2="179" stroke-width="5"/>
<line x1="2178" y1="309.3" x2="2198" y2="309.3" stroke-width="5"/>
<line x1="2178" y1="439.6" x2="2198" y2="439.6" stroke-width="5"/>
<line x1="2178" y1="569.9" x2="2198" y2="569.9" stroke-width="5"/>
<line x1="2178" y1="700.2" x2="2198" y2="700.2" stroke-width="5"/>
<line x1="2178" y1="830.5" x2="2198" y2="830.5" stroke-width="5"/>
<line x1="2178" y1="960.8" x2="2198" y2="960.8" stroke-width="5"/>
<line x1="2178" y1="1091.1" x2="2198" y2="1091.1" stroke-width="5"/>
<line x1="2178" y1="1221.4" x2="2198" y2="1221.4" stroke-width="5"/>
</g>
<text x="2162.9" y="198.5" font-size="58" text-anchor="end">0</text>
<text x="2160.5" y="331" font-size="58" text-anchor="end">−0.1</text>
<text x="2162.9" y="460" font-size="58" text-anchor="end">−0.2</text>
<text x="2162.9" y="589" font-size="58" text-anchor="end">−0.3</text>
<text x="2162.9" y="718.5" font-size="58" text-anchor="end">−0.4</text>
<text x="2162.9" y="844.5" font-size="58" text-anchor="end">−0.5</text>
<text x="2162.9" y="974.5" font-size="58" text-anchor="end">−0.6</text>
<text x="2162.9" y="1104" font-size="58" text-anchor="end">−0.7</text>
<text x="2162.9" y="1233.5" font-size="58" text-anchor="end">−0.8</text>
<text x="2451.7" y="1352.5" font-size="58" text-anchor="middle">200</text>
<text x="2785.5" y="1352.5" font-size="58" text-anchor="middle">400</text>
<text x="3106" y="1352.5" font-size="58" text-anchor="middle">600</text>
<text x="3427" y="1352.5" font-size="58" text-anchor="middle">800</text>
<text x="3734" y="1352.5" font-size="58" text-anchor="middle">1000</text>
<text x="2961" y="1411" font-size="56" text-anchor="middle">温度/<tspan font-family="Noto Serif CJK SC">℃</tspan></text>
<text x="2030.5" y="707" font-size="58" text-anchor="middle" transform="rotate(-90 2030.5 707)" letter-spacing="0.5">DTG/(mg·min<tspan font-size="36" dy="-22">−1</tspan><tspan dy="22">)</tspan></text>
<text x="2243" y="102" font-size="58" text-anchor="start">b</text>
<clipPath id="c3"><rect x="2175.5" y="73" width="1559" height="1215"/></clipPath>
<g clip-path="url(#c3)">
<g stroke="#000" fill="none" stroke-linejoin="round" stroke-linecap="round">
<path d="M2178.7 210.9C2180.1 213.4 2182.7 214.9 2186.8 225.9C2190.8 236.9 2197.5 257.4 2202.8 276.7C2208.2 296.1 2213.6 322.3 2218.9 341.9C2224.3 361.4 2229.6 380.3 2235 394C2240.3 407.7 2245.7 416.8 2251.1 424C2256.4 431.1 2262.6 434.4 2267.1 437C2271.7 439.6 2274.4 440.9 2278.4 439.6C2282.4 438.3 2286.4 433.5 2291.2 429.2C2296.1 424.8 2302 418.1 2307.3 413.5C2312.7 409 2318 404.6 2323.4 401.8C2328.8 399 2334.1 397.5 2339.5 396.6C2344.8 395.7 2350.2 395.5 2355.6 396.6C2360.9 397.7 2364.9 400.1 2371.6 403.1C2378.3 406.2 2387.7 412 2395.7 414.8C2403.8 417.7 2411.8 419.4 2419.8 420.1C2427.9 420.7 2435.9 419.8 2444 418.8C2452 417.7 2460 414.2 2468.1 413.5C2476.1 412.9 2484.2 412.2 2492.2 414.8C2500.2 417.4 2508.3 423.3 2516.3 429.2C2524.3 435 2532.4 441.3 2540.4 450C2548.4 458.7 2556.5 469.6 2564.5 481.3C2572.6 493 2580.6 506.7 2588.6 520.4C2596.7 534.1 2604.7 550.8 2612.8 563.4C2620.8 576 2630.2 588.6 2636.9 596C2643.6 603.3 2648.4 605.3 2652.9 607.7C2657.5 610.1 2660.2 610.9 2664.2 610.3C2668.2 609.6 2670.9 610.9 2677.1 603.8C2683.2 596.6 2693.1 581.2 2701.2 567.3C2709.2 553.4 2717.2 533.9 2725.3 520.4C2733.3 506.9 2741.3 494.3 2749.4 486.5C2757.4 478.7 2765.5 475.2 2773.5 473.5C2781.5 471.7 2789.6 473.9 2797.6 476.1C2805.7 478.3 2813.7 482.8 2821.7 486.5C2829.8 490.2 2839.1 495.8 2845.8 498.2C2852.5 500.6 2856.6 501.7 2861.9 500.8C2867.3 500 2871.3 498.5 2878 493C2884.7 487.6 2894.1 478.3 2902.1 468.3C2910.1 458.3 2918.2 444.4 2926.2 433.1C2934.2 421.8 2942.3 407.7 2950.3 400.5C2958.4 393.3 2965.1 392.7 2974.4 390.1C2983.8 387.5 2997.2 387.7 3006.6 384.9C3016 382.1 3024 377.3 3030.7 373.1C3037.4 369 3040.1 367.5 3046.8 360.1C3053.5 352.7 3062.8 339.9 3070.9 328.8C3078.9 317.8 3087 304.7 3095 293.7C3103 282.6 3111.1 271.1 3119.1 262.4C3127.2 253.7 3133.8 248.5 3143.2 241.5C3152.6 234.6 3164.7 226.1 3175.4 220.7C3186.1 215.3 3196.8 211.8 3207.5 209C3218.2 206.1 3226.3 204 3239.7 203.8C3253.1 203.5 3271.8 205.9 3287.9 207.7C3304 209.4 3320.1 211.4 3336.1 214.2C3352.2 217 3368.3 223.3 3384.3 224.6C3400.4 225.9 3416.5 224.4 3432.6 222C3448.6 219.6 3464.7 213.3 3480.8 210.3C3496.9 207.2 3512.9 203.3 3529 203.8C3545.1 204.2 3561.2 209.2 3577.2 212.9C3593.3 216.6 3610.7 226.8 3625.5 225.9C3640.2 225 3652.3 214.4 3665.7 207.7C3679.1 200.9 3693.8 190.3 3705.8 185.5C3717.9 180.7 3732.6 180.1 3738 179" stroke-width="6"/>
<path d="M2185 140C2186 145.8 2187.7 157.5 2191 175C2194.3 192.5 2199.8 220.8 2205 245C2210.2 269.2 2216.2 296.7 2222 320C2227.8 343.3 2234.5 370.8 2240 385C2245.5 399.2 2250.8 402.5 2255 405C2259.2 407.5 2259.2 403.3 2265 400C2270.8 396.7 2280.8 390.8 2290 385C2299.2 379.2 2310.8 369.2 2320 365C2329.2 360.8 2336.7 359.2 2345 360C2353.3 360.8 2361.2 364.2 2370 370C2378.8 375.8 2389.8 388.3 2398 395C2406.2 401.7 2408.7 405 2419 410C2429.3 415 2446.5 418.3 2460 425C2473.5 431.7 2487.7 435.8 2500 450C2512.3 464.2 2525.7 493.3 2534 510C2542.3 526.7 2543.2 533 2550 550C2556.8 567 2566.7 591.2 2575 612C2583.3 632.8 2591.7 654.2 2600 675C2608.3 695.8 2616.8 720.8 2625 737C2633.2 753.2 2642.3 769.8 2649 772C2655.7 774.2 2660.8 757.2 2665 750C2669.2 742.8 2670.3 741.5 2674 729C2677.7 716.5 2682.7 692.3 2687 675C2691.3 657.7 2695.8 641.7 2700 625C2704.2 608.3 2707.8 588.8 2712 575C2716.2 561.2 2720 550.8 2725 542C2730 533.2 2735.8 525.8 2742 522C2748.2 518.2 2755.3 519 2762 519C2768.7 519 2775 518.7 2782 522C2789 525.3 2796.8 532.3 2804 539C2811.2 545.7 2818.2 556 2825 562C2831.8 568 2840.5 572.8 2845 575C2849.5 577.2 2847 577.5 2852 575C2857 572.5 2869.2 566.7 2875 560C2880.8 553.3 2882.8 545 2887 535C2891.2 525 2895.8 512.2 2900 500C2904.2 487.8 2905.5 474.3 2912 462C2918.5 449.7 2929.3 437.2 2939 426C2948.7 414.8 2959.8 403.5 2970 395C2980.2 386.5 2990 381.7 3000 375C3010 368.3 3020.7 360.5 3030 355C3039.3 349.5 3047.7 347.8 3056 342C3064.3 336.2 3071 330.3 3080 320C3089 309.7 3100 292.5 3110 280C3120 267.5 3130.8 254.7 3140 245C3149.2 235.3 3158 227.3 3165 222C3172 216.7 3172.8 215.5 3182 213C3191.2 210.5 3207 208.3 3220 207C3233 205.7 3245.8 203.3 3260 205C3274.2 206.7 3290 215.3 3305 217C3320 218.7 3334.2 215.8 3350 215C3365.8 214.2 3385.8 212 3400 212C3414.2 212 3421.7 214 3435 215C3448.3 216 3465.8 216.3 3480 218C3494.2 219.7 3505.8 221 3520 225C3534.2 229 3553.3 237.8 3565 242C3576.7 246.2 3580.8 250.3 3590 250C3599.2 249.7 3610 244.2 3620 240C3630 235.8 3637.5 231.7 3650 225C3662.5 218.3 3680.8 207.5 3695 200C3709.2 192.5 3728.3 183.3 3735 180" stroke-width="5.5"/>
<path d="M2185 135C2186 140.8 2187.7 152.5 2191 170C2194.3 187.5 2199.8 215.8 2205 240C2210.2 264.2 2216.2 291.7 2222 315C2227.8 338.3 2234.5 365.8 2240 380C2245.5 394.2 2250 399.2 2255 400C2260 400.8 2263.3 391.7 2270 385C2276.7 378.3 2286.7 368.3 2295 360C2303.3 351.7 2311.7 340.5 2320 335C2328.3 329.5 2335.8 327 2345 327C2354.2 327 2363.5 330.3 2375 335C2386.5 339.7 2403.2 348.3 2414 355C2424.8 361.7 2429 366.7 2440 375C2451 383.3 2470 397.5 2480 405C2490 412.5 2491.7 404.2 2500 420C2508.3 435.8 2520.5 468.8 2530 500C2539.5 531.2 2547 573.7 2557 607C2567 640.3 2579.5 671.2 2590 700C2600.5 728.8 2611.3 758.5 2620 780C2628.7 801.5 2634.5 827.3 2642 829C2649.5 830.7 2657 811.5 2665 790C2673 768.5 2683.5 725 2690 700C2696.5 675 2699 658.3 2704 640C2709 621.7 2714 604.2 2720 590C2726 575.8 2733 562.5 2740 555C2747 547.5 2753.7 545 2762 545C2770.3 545 2781.2 549.2 2790 555C2798.8 560.8 2806.5 570.5 2815 580C2823.5 589.5 2832.7 603 2841 612C2849.3 621 2857.7 633.5 2865 634C2872.3 634.5 2879.2 625.7 2885 615C2890.8 604.3 2895 589.2 2900 570C2905 550.8 2910 521.7 2915 500C2920 478.3 2924.2 455 2930 440C2935.8 425 2940.7 420 2950 410C2959.3 400 2972.7 392.5 2986 380C2999.3 367.5 3014.3 351.7 3030 335C3045.7 318.3 3068 292.2 3080 280C3092 267.8 3093.5 272 3102 262C3110.5 252 3118 230.3 3131 220C3144 209.7 3163.2 204.7 3180 200C3196.8 195.3 3213.7 192 3232 192C3250.3 192 3268.7 198.7 3290 200C3311.3 201.3 3338.3 199.2 3360 200C3381.7 200.8 3400 203.3 3420 205C3440 206.7 3461.7 206.7 3480 210C3498.3 213.3 3513.3 219.2 3530 225C3546.7 230.8 3565 243.3 3580 245C3595 246.7 3603.3 241.7 3620 235C3636.7 228.3 3660.8 214.5 3680 205C3699.2 195.5 3725.8 182.5 3735 178" stroke-width="5.3"/>
<path d="M2186 130C2186.8 135.8 2187.8 147.5 2191 165C2194.2 182.5 2199.8 210.8 2205 235C2210.2 259.2 2216.2 286.7 2222 310C2227.8 333.3 2234.5 360.8 2240 375C2245.5 389.2 2249.2 395.5 2255 395C2260.8 394.5 2267.5 380.3 2275 372C2282.5 363.7 2292.5 352.8 2300 345C2307.5 337.2 2312.5 329.7 2320 325C2327.5 320.3 2335 316.5 2345 317C2355 317.5 2368.2 322.2 2380 328C2391.8 333.8 2404.3 342.5 2416 352C2427.7 361.5 2439.3 373.7 2450 385C2460.7 396.3 2471.7 407.5 2480 420C2488.3 432.5 2493.3 440 2500 460C2506.7 480 2512.5 508.3 2520 540C2527.5 571.7 2537 615.2 2545 650C2553 684.8 2559.7 719 2568 749C2576.3 779 2585.3 806.5 2595 830C2604.7 853.5 2616.8 886.7 2626 890C2635.2 893.3 2642.7 868.3 2650 850C2657.3 831.7 2663.3 805 2670 780C2676.7 755 2684.2 723.3 2690 700C2695.8 676.7 2700.2 657.2 2705 640C2709.8 622.8 2714 607.8 2719 597C2724 586.2 2729.8 579.5 2735 575C2740.2 570.5 2743.3 568.3 2750 570C2756.7 571.7 2766.7 576.7 2775 585C2783.3 593.3 2790.8 606.7 2800 620C2809.2 633.3 2819.7 652.3 2830 665C2840.3 677.7 2852.8 695.2 2862 696C2871.2 696.8 2878.7 686 2885 670C2891.3 654 2895 626.7 2900 600C2905 573.3 2910 536.7 2915 510C2920 483.3 2922.5 460 2930 440C2937.5 420 2948.5 405 2960 390C2971.5 375 2984 365 2999 350C3014 335 3033.2 316.7 3050 300C3066.8 283.3 3086.7 263.8 3100 250C3113.3 236.2 3116.7 224.5 3130 217C3143.3 209.5 3163.3 207.8 3180 205C3196.7 202.2 3215.5 200 3230 200C3244.5 200 3250.3 205 3267 205C3283.7 205 3307.8 200.8 3330 200C3352.2 199.2 3378.3 199.2 3400 200C3421.7 200.8 3441.7 202.5 3460 205C3478.3 207.5 3497.5 210 3510 215C3522.5 220 3523.3 228.3 3535 235C3546.7 241.7 3565.8 254.2 3580 255C3594.2 255.8 3606.7 247.5 3620 240C3633.3 232.5 3646.7 218.3 3660 210C3673.3 201.7 3687.5 196.7 3700 190C3712.5 183.3 3729.2 173.3 3735 170" stroke-width="5.2"/>
<path d="M2187 145C2187.8 148.3 2189 150.8 2192 165C2195 179.2 2200 206.7 2205 230C2210 253.3 2216.2 281.7 2222 305C2227.8 328.3 2234.5 355.8 2240 370C2245.5 384.2 2247.5 390.8 2255 390C2262.5 389.2 2276.7 374.2 2285 365C2293.3 355.8 2298.3 343.3 2305 335C2311.7 326.7 2318.3 319.2 2325 315C2331.7 310.8 2337.5 309.5 2345 310C2352.5 310.5 2360.8 313.8 2370 318C2379.2 322.2 2389.8 328.2 2400 335C2410.2 341.8 2421 349.8 2431 359C2441 368.2 2451 378.2 2460 390C2469 401.8 2478.3 416.7 2485 430C2491.7 443.3 2495 451.7 2500 470C2505 488.3 2509.2 511.7 2515 540C2520.8 568.3 2528.3 606.7 2535 640C2541.7 673.3 2548.3 708.3 2555 740C2561.7 771.7 2569.2 805.8 2575 830C2580.8 854.2 2583.2 871.3 2590 885C2596.8 898.7 2607.7 912.8 2616 912C2624.3 911.2 2632.7 897 2640 880C2647.3 863 2653.3 835 2660 810C2666.7 785 2673.3 756.7 2680 730C2686.7 703.3 2693.3 672.5 2700 650C2706.7 627.5 2714.2 608 2720 595C2725.8 582 2730 576.2 2735 572C2740 567.8 2743.3 567 2750 570C2756.7 573 2766.7 580 2775 590C2783.3 600 2790.8 615 2800 630C2809.2 645 2821.7 666.3 2830 680C2838.3 693.7 2843.7 704.8 2850 712C2856.3 719.2 2862.2 724.2 2868 723C2873.8 721.8 2880.2 713 2885 705C2889.8 697 2892.8 692.5 2897 675C2901.2 657.5 2905.8 629.2 2910 600C2914.2 570.8 2917.8 528.3 2922 500C2926.2 471.7 2928.7 449.2 2935 430C2941.3 410.8 2949.2 400.8 2960 385C2970.8 369.2 2987.3 349.2 3000 335C3012.7 320.8 3024.3 309.2 3036 300C3047.7 290.8 3057.7 288.3 3070 280C3082.3 271.7 3098.3 258.3 3110 250C3121.7 241.7 3128.3 235.8 3140 230C3151.7 224.2 3165 218.3 3180 215C3195 211.7 3210 210.5 3230 210C3250 209.5 3283.3 211.7 3300 212C3316.7 212.3 3313.3 212.3 3330 212C3346.7 211.7 3376.7 209.8 3400 210C3423.3 210.2 3453.3 212.2 3470 213C3486.7 213.8 3486.7 210.5 3500 215C3513.3 219.5 3536.7 232.8 3550 240C3563.3 247.2 3573.3 255.5 3580 258C3586.7 260.5 3583.3 257.2 3590 255C3596.7 252.8 3605 253.3 3620 245C3635 236.7 3663.3 215.8 3680 205C3696.7 194.2 3710.8 185 3720 180C3729.2 175 3732.5 175.8 3735 175" stroke-width="4.7"/>
<path d="M2186 126C2186.8 131.7 2187.8 142.7 2191 160C2194.2 177.3 2199.8 206.7 2205 230C2210.2 253.3 2216.2 279.2 2222 300C2227.8 320.8 2234 342 2240 355C2246 368 2252.2 375.5 2258 378C2263.8 380.5 2269.7 374.3 2275 370C2280.3 365.7 2284.2 361.7 2290 352C2295.8 342.3 2303 321.7 2310 312C2317 302.3 2324.2 297 2332 294C2339.8 291 2346 294.7 2357 294C2368 293.3 2386.7 290.5 2398 290C2409.3 289.5 2417.7 288.2 2425 291C2432.3 293.8 2436.7 299.7 2442 307C2447.3 314.3 2452.3 324.2 2457 335C2461.7 345.8 2466 359.5 2470 372C2474 384.5 2477.7 393.7 2481 410C2484.3 426.3 2486.8 445 2490 470C2493.2 495 2496.3 525.8 2500 560C2503.7 594.2 2507.8 639.2 2512 675C2516.2 710.8 2520.5 735.8 2525 775C2529.5 814.2 2534.8 871.7 2539 910C2543.2 948.3 2546.2 972.5 2550 1005C2553.8 1037.5 2558.3 1078 2562 1105C2565.7 1132 2568.7 1151.7 2572 1167C2575.3 1182.3 2577.8 1197 2582 1197C2586.2 1197 2592 1184.5 2597 1167C2602 1149.5 2607.3 1117 2612 1092C2616.7 1067 2620.8 1042 2625 1017C2629.2 992 2632.8 964.8 2637 942C2641.2 919.2 2645.3 902.8 2650 880C2654.7 857.2 2660.8 826.7 2665 805C2669.2 783.3 2672 767.5 2675 750C2678 732.5 2678.8 716.7 2683 700C2687.2 683.3 2695.2 664.7 2700 650C2704.8 635.3 2707.8 621.2 2712 612C2716.2 602.8 2721.2 598.3 2725 595C2728.8 591.7 2730.8 589.2 2735 592C2739.2 594.8 2745.5 602.3 2750 612C2754.5 621.7 2757.8 637.5 2762 650C2766.2 662.5 2770.8 674.5 2775 687C2779.2 699.5 2782.8 712.5 2787 725C2791.2 737.5 2794.7 748.2 2800 762C2805.3 775.8 2812.3 794.7 2819 808C2825.7 821.3 2833.8 835 2840 842C2846.2 849 2850.2 851.2 2856 850C2861.8 848.8 2868.2 845.5 2875 835C2881.8 824.5 2890.8 805.3 2897 787C2903.2 768.7 2907.3 747.8 2912 725C2916.7 702.2 2921.2 679.2 2925 650C2928.8 620.8 2932.2 583.3 2935 550C2937.8 516.7 2938.8 480 2942 450C2945.2 420 2950.7 395 2954 370C2957.3 345 2959 320 2962 300C2965 280 2968.7 262.5 2972 250C2975.3 237.5 2977.3 230.7 2982 225C2986.7 219.3 2993.7 218.2 3000 216C3006.3 213.8 3013.3 214.3 3020 212C3026.7 209.7 3031.5 204.7 3040 202C3048.5 199.3 3059 197.3 3071 196C3083 194.7 3098.8 195.2 3112 194C3125.2 192.8 3136 190.2 3150 189C3164 187.8 3177.7 186.8 3196 187C3214.3 187.2 3239 190.7 3260 190C3281 189.3 3302 183 3322 183C3342 183 3359.3 189.7 3380 190C3400.7 190.3 3426 183.3 3446 185C3466 186.7 3484.3 195 3500 200C3515.7 205 3528.3 210.3 3540 215C3551.7 219.7 3556.7 226.3 3570 228C3583.3 229.7 3605 228.8 3620 225C3635 221.2 3646.7 211.2 3660 205C3673.3 198.8 3687.5 193 3700 188C3712.5 183 3729.2 177.2 3735 175" stroke-width="4"/>
</g>
<g fill="#000">
<rect x="2160.1" y="192.3" width="37.2" height="37.2"/>
<rect x="2240.5" y="411.9" width="37.2" height="37.2"/>
<rect x="2320.9" y="378" width="37.2" height="37.2"/>
<rect x="2401.2" y="401.5" width="37.2" height="37.2"/>
<rect x="2481.6" y="401" width="37.2" height="37.2"/>
<rect x="2562" y="488.8" width="37.2" height="37.2"/>
<rect x="2642.4" y="590.9" width="37.2" height="37.2"/>
<rect x="2722.8" y="479.2" width="37.2" height="37.2"/>
<rect x="2803.1" y="467.9" width="37.2" height="37.2"/>
<rect x="2883.5" y="449.7" width="37.2" height="37.2"/>
<rect x="2963.9" y="370.2" width="37.2" height="37.2"/>
<rect x="3044.2" y="320.7" width="37.2" height="37.2"/>
<rect x="3124.6" y="222.9" width="37.2" height="37.2"/>
<rect x="3205" y="187.8" width="37.2" height="37.2"/>
<rect x="3285.4" y="191.2" width="37.2" height="37.2"/>
<rect x="3365.8" y="206" width="37.2" height="37.2"/>
<rect x="3446.1" y="195.6" width="37.2" height="37.2"/>
<rect x="3526.5" y="188.2" width="37.2" height="37.2"/>
<rect x="3606.9" y="207.3" width="37.2" height="37.2"/>
<rect x="3687.2" y="166.9" width="37.2" height="37.2"/>
<circle cx="2185" cy="140" r="20"/>
<circle cx="2265" cy="400" r="20"/>
<circle cx="2398" cy="395" r="20"/>
<circle cx="2534" cy="510" r="20"/>
<circle cx="2674" cy="729" r="20"/>
<circle cx="2804" cy="539" r="20"/>
<circle cx="2939" cy="426" r="20"/>
<circle cx="3056" cy="342" r="20"/>
<circle cx="3182" cy="213" r="20"/>
<circle cx="3305" cy="217" r="20"/>
<circle cx="3435" cy="215" r="20"/>
<circle cx="3565" cy="242" r="20"/>
<circle cx="3695" cy="200" r="20"/>
<polygon points="2185,111.2 2209.5,152.2 2160.5,152.2"/>
<polygon points="2270,361.2 2294.5,402.2 2245.5,402.2"/>
<polygon points="2414,331.2 2438.5,372.2 2389.5,372.2"/>
<polygon points="2557,583.2 2581.5,624.2 2532.5,624.2"/>
<polygon points="2704,616.2 2728.5,657.2 2679.5,657.2"/>
<polygon points="2841,588.2 2865.5,629.2 2816.5,629.2"/>
<polygon points="2986,356.2 3010.5,397.2 2961.5,397.2"/>
<polygon points="3102,238.2 3126.5,279.2 3077.5,279.2"/>
<polygon points="3232,168.2 3256.5,209.2 3207.5,209.2"/>
<polygon points="3360,176.2 3384.5,217.2 3335.5,217.2"/>
<polygon points="3480,186.2 3504.5,227.2 3455.5,227.2"/>
<polygon points="3620,211.2 3644.5,252.2 3595.5,252.2"/>
<polygon points="3735,154.2 3759.5,195.2 3710.5,195.2"/>
<polygon points="2186,105 2211,130 2186,155 2161,130"/>
<polygon points="2275,347 2300,372 2275,397 2250,372"/>
<polygon points="2416,327 2441,352 2416,377 2391,352"/>
<polygon points="2568,724 2593,749 2568,774 2543,749"/>
<polygon points="2719,572 2744,597 2719,622 2694,597"/>
<polygon points="2862,671 2887,696 2862,721 2837,696"/>
<polygon points="2999,325 3024,350 2999,375 2974,350"/>
<polygon points="3130,192 3155,217 3130,242 3105,217"/>
<polygon points="3267,180 3292,205 3267,230 3242,205"/>
<polygon points="3400,175 3425,200 3400,225 3375,200"/>
<polygon points="3535,210 3560,235 3535,260 3510,235"/>
<polygon points="3660,185 3685,210 3660,235 3635,210"/>
<polygon points="2187,123.2 2192.8,138.6 2209.2,139.3 2196.3,149.5 2200.7,165.4 2187,156.3 2173.3,165.4 2177.7,149.5 2164.8,139.3 2181.2,138.6"/>
<polygon points="2285,343.2 2290.8,358.6 2307.2,359.3 2294.3,369.5 2298.7,385.4 2285,376.3 2271.3,385.4 2275.7,369.5 2262.8,359.3 2279.2,358.6"/>
<polygon points="2431,337.2 2436.8,352.6 2453.2,353.3 2440.3,363.5 2444.7,379.4 2431,370.3 2417.3,379.4 2421.7,363.5 2408.8,353.3 2425.2,352.6"/>
<polygon points="2590,863.2 2595.8,878.6 2612.2,879.3 2599.3,889.5 2603.7,905.4 2590,896.3 2576.3,905.4 2580.7,889.5 2567.8,879.3 2584.2,878.6"/>
<polygon points="2750,548.2 2755.8,563.6 2772.2,564.3 2759.3,574.5 2763.7,590.4 2750,581.3 2736.3,590.4 2740.7,574.5 2727.8,564.3 2744.2,563.6"/>
<polygon points="2897,653.2 2902.8,668.6 2919.2,669.3 2906.3,679.5 2910.7,695.4 2897,686.3 2883.3,695.4 2887.7,679.5 2874.8,669.3 2891.2,668.6"/>
<polygon points="3036,278.2 3041.8,293.6 3058.2,294.3 3045.3,304.5 3049.7,320.4 3036,311.3 3022.3,320.4 3026.7,304.5 3013.8,294.3 3030.2,293.6"/>
<polygon points="3180,193.2 3185.8,208.6 3202.2,209.3 3189.3,219.5 3193.7,235.4 3180,226.3 3166.3,235.4 3170.7,219.5 3157.8,209.3 3174.2,208.6"/>
<polygon points="3330,190.2 3335.8,205.6 3352.2,206.3 3339.3,216.5 3343.7,232.4 3330,223.3 3316.3,232.4 3320.7,216.5 3307.8,206.3 3324.2,205.6"/>
<polygon points="3470,191.2 3475.8,206.6 3492.2,207.3 3479.3,217.5 3483.7,233.4 3470,224.3 3456.3,233.4 3460.7,217.5 3447.8,207.3 3464.2,206.6"/>
<polygon points="3590,233.2 3595.8,248.6 3612.2,249.3 3599.3,259.5 3603.7,275.4 3590,266.3 3576.3,275.4 3580.7,259.5 3567.8,249.3 3584.2,248.6"/>
<polygon points="3720,158.2 3725.8,173.6 3742.2,174.3 3729.3,184.5 3733.7,200.4 3720,191.3 3706.3,200.4 3710.7,184.5 3697.8,174.3 3714.2,173.6"/>
<polygon points="2186,105 2204.7,115.5 2204.7,136.5 2186,147 2167.3,136.5 2167.3,115.5"/>
<polygon points="2258,357 2276.7,367.5 2276.7,388.5 2258,399 2239.3,388.5 2239.3,367.5"/>
<polygon points="2398,269 2416.7,279.5 2416.7,300.5 2398,311 2379.3,300.5 2379.3,279.5"/>
<polygon points="2539,889 2557.7,899.5 2557.7,920.5 2539,931 2520.3,920.5 2520.3,899.5"/>
<polygon points="2683,679 2701.7,689.5 2701.7,710.5 2683,721 2664.3,710.5 2664.3,689.5"/>
<polygon points="2819,787 2837.7,797.5 2837.7,818.5 2819,829 2800.3,818.5 2800.3,797.5"/>
<polygon points="2942,429 2960.7,439.5 2960.7,460.5 2942,471 2923.3,460.5 2923.3,439.5"/>
<polygon points="3071,175 3089.7,185.5 3089.7,206.5 3071,217 3052.3,206.5 3052.3,185.5"/>
<polygon points="3196,166 3214.7,176.5 3214.7,197.5 3196,208 3177.3,197.5 3177.3,176.5"/>
<polygon points="3322,162 3340.7,172.5 3340.7,193.5 3322,204 3303.3,193.5 3303.3,172.5"/>
<polygon points="3446,164 3464.7,174.5 3464.7,195.5 3446,206 3427.3,195.5 3427.3,174.5"/>
<polygon points="3570,207 3588.7,217.5 3588.7,238.5 3570,249 3551.3,238.5 3551.3,217.5"/>
<polygon points="3700,167 3718.7,177.5 3718.7,198.5 3700,209 3681.3,198.5 3681.3,177.5"/>
</g>
</g>
<g stroke="#000" fill="none">
<line x1="3246" y1="439" x2="3329" y2="439" stroke-width="4.7"/>
<line x1="3246" y1="502.5" x2="3329" y2="502.5" stroke-width="4.7"/>
<line x1="3246" y1="559" x2="3329" y2="559" stroke-width="4.7"/>
<line x1="3246" y1="620" x2="3329" y2="620" stroke-width="4.7"/>
<line x1="3242" y1="676" x2="3333" y2="676" stroke-width="2.8"/>
<line x1="3242" y1="732.5" x2="3333" y2="732.5" stroke-width="2.8"/>
</g>
<g fill="#000">
<rect x="3273.4" y="424.9" width="28.3" height="28.3"/>
<circle cx="3287.5" cy="502.5" r="15.2"/>
<polygon points="3287.5,540.9 3306.1,572.1 3268.9,572.1"/>
<polygon points="3287.5,601 3306.5,620 3287.5,639 3268.5,620"/>
<polygon points="3287.5,659.4 3291.9,671.1 3304.3,671.7 3294.6,679.4 3297.9,691.5 3287.5,684.6 3277.1,691.5 3280.4,679.4 3270.7,671.7 3283.1,671.1"/>
<polygon points="3287.5,716.5 3301.7,724.5 3301.7,740.5 3287.5,748.5 3273.3,740.5 3273.3,724.5"/>
</g>
<text x="3365.5" y="460" font-size="58" text-anchor="start">YR100%</text>
<text x="3365.5" y="519" font-size="58" text-anchor="start">YR90%+ZZ10%</text>
<text x="3365.5" y="577.5" font-size="58" text-anchor="start">YR80%+ZZ20%</text>
<text x="3365.5" y="637.5" font-size="58" text-anchor="start">YR60%+ZZ40%</text>
<text x="3365.5" y="695" font-size="58" text-anchor="start">YR50%+ZZ50%</text>
<text x="3360" y="752.5" font-size="58" text-anchor="start">KFQ100%</text>
<g stroke="#000" fill="none" stroke-linecap="butt">
<line x1="3014" y1="696" x2="3014" y2="1155.8" stroke-width="4.5"/>
<line x1="3011.8" y1="1153.5" x2="3740.8" y2="1153.5" stroke-width="4.5"/>
<line x1="3140" y1="1153.5" x2="3140" y2="1141.5" stroke-width="4"/>
<line x1="3289.5" y1="1153.5" x2="3289.5" y2="1141.5" stroke-width="4"/>
<line x1="3439.5" y1="1153.5" x2="3439.5" y2="1141.5" stroke-width="4"/>
<line x1="3589.5" y1="1153.5" x2="3589.5" y2="1141.5" stroke-width="4"/>
<line x1="3737.5" y1="1153.5" x2="3737.5" y2="1141.5" stroke-width="4"/>
<line x1="3014" y1="761" x2="3024" y2="761" stroke-width="4"/>
<line x1="3014" y1="817" x2="3024" y2="817" stroke-width="4"/>
<line x1="3014" y1="873" x2="3024" y2="873" stroke-width="4"/>
<line x1="3014" y1="929" x2="3024" y2="929" stroke-width="4"/>
<line x1="3014" y1="985" x2="3024" y2="985" stroke-width="4"/>
<line x1="3014" y1="1041" x2="3024" y2="1041" stroke-width="4"/>
<line x1="3014" y1="1097" x2="3024" y2="1097" stroke-width="4"/>
</g>
<text x="3007" y="719" font-size="42" text-anchor="end">100%</text>
<text x="3007" y="782" font-size="42" text-anchor="end">90%</text>
<text x="3007" y="846" font-size="42" text-anchor="end">80%</text>
<text x="3007" y="908.5" font-size="42" text-anchor="end">70%</text>
<text x="3007" y="971" font-size="42" text-anchor="end">60%</text>
<text x="3007" y="1034" font-size="42" text-anchor="end">50%</text>
<text x="3007" y="1097.5" font-size="42" text-anchor="end">40%</text>
<text x="3007" y="1160" font-size="42" text-anchor="end">30%</text>
<text x="3132" y="1195.5" font-size="42" text-anchor="middle">200</text>
<text x="3287" y="1195.5" font-size="42" text-anchor="middle">400</text>
<text x="3443.5" y="1195.5" font-size="42" text-anchor="middle">600</text>
<text x="3590" y="1195.5" font-size="42" text-anchor="middle">800</text>
<text x="3736" y="1195.5" font-size="42" text-anchor="middle">1000</text>
<text x="3366.5" y="1239" font-size="40" text-anchor="middle">温度/<tspan font-family="Noto Serif CJK SC">℃</tspan></text>
<text x="2911" y="952" font-size="42" text-anchor="middle" transform="rotate(-90 2911 952)">TG</text>
<clipPath id="c4"><rect x="3014" y="660" width="726" height="493.5"/></clipPath>
<g clip-path="url(#c4)">
<g stroke="#000" fill="none" stroke-linejoin="round" stroke-linecap="round">
<path d="M3014 702C3020.2 705 3039 715 3051 720C3063 725 3074.3 727.8 3086 732C3097.7 736.2 3110.2 738.7 3121 745C3131.8 751.3 3139.3 760.8 3151 770C3162.7 779.2 3176.8 786.7 3191 800C3205.2 813.3 3221 834.7 3236 850C3251 865.3 3266 878.7 3281 892C3296 905.3 3311 917.5 3326 930C3341 942.5 3356 956.7 3371 967C3386 977.3 3401 985.3 3416 992C3431 998.7 3446 1003.7 3461 1007C3476 1010.3 3491 1010.7 3506 1012C3521 1013.3 3536 1013.7 3551 1015C3566 1016.3 3581 1018.3 3596 1020C3611 1021.7 3626 1023.8 3641 1025C3656 1026.2 3671 1026.2 3686 1027C3701 1027.8 3722.3 1029.3 3731 1030C3739.7 1030.7 3736.8 1030.8 3738 1031" stroke-width="3.3"/>
<path d="M3014 702C3020.2 705 3039 714.8 3051 720C3063 725.2 3074.3 728.5 3086 733C3097.7 737.5 3110.2 740.5 3121 747C3131.8 753.5 3140.2 763.2 3151 772C3161.8 780.8 3175.3 789.5 3186 800C3196.7 810.5 3204.3 822 3215 835C3225.7 848 3237.5 863 3250 878C3262.5 893 3279.2 912.5 3290 925C3300.8 937.5 3305 943 3315 953C3325 963 3337.5 975.2 3350 985C3362.5 994.8 3375.7 1003.3 3390 1012C3404.3 1020.7 3421 1031.5 3436 1037C3451 1042.5 3466 1042.8 3480 1045C3494 1047.2 3506.7 1048.7 3520 1050C3533.3 1051.3 3546.7 1051.8 3560 1053C3573.3 1054.2 3586.7 1055.5 3600 1057C3613.3 1058.5 3625 1059.8 3640 1062C3655 1064.2 3673.7 1067.8 3690 1070C3706.3 1072.2 3730 1074.2 3738 1075" stroke-width="3"/>
<path d="M3014 702C3020.2 705 3039 714.8 3051 720C3063 725.2 3074.3 728.5 3086 733C3097.7 737.5 3110.2 740.5 3121 747C3131.8 753.5 3140.2 763.2 3151 772C3161.8 780.8 3175.3 789.7 3186 800C3196.7 810.3 3204.3 821.5 3215 834C3225.7 846.5 3237.5 860.7 3250 875C3262.5 889.3 3276.7 906.7 3290 920C3303.3 933.3 3315.8 944.2 3330 955C3344.2 965.8 3361.7 975.8 3375 985C3388.3 994.2 3399 1003 3410 1010C3421 1017 3429.3 1022.8 3441 1027C3452.7 1031.2 3469.2 1033.2 3480 1035C3490.8 1036.8 3494.3 1037.2 3506 1038C3517.7 1038.8 3539.5 1039.3 3550 1040C3560.5 1040.7 3560.7 1041.2 3569 1042C3577.3 1042.8 3589.2 1044.2 3600 1045C3610.8 1045.8 3622.3 1046.2 3634 1047C3645.7 1047.8 3659.3 1049.2 3670 1050C3680.7 1050.8 3686.7 1051.2 3698 1052C3709.3 1052.8 3731.3 1054.5 3738 1055" stroke-width="2.9"/>
<path d="M3014 702C3020.2 705 3039 714.8 3051 720C3063 725.2 3074.3 728.5 3086 733C3097.7 737.5 3110.2 740.3 3121 747C3131.8 753.7 3140.2 764 3151 773C3161.8 782 3175.3 790.3 3186 801C3196.7 811.7 3204.3 823.5 3215 837C3225.7 850.5 3237.5 866.5 3250 882C3262.5 897.5 3276.7 915.7 3290 930C3303.3 944.3 3316.7 956.3 3330 968C3343.3 979.7 3356.7 990.5 3370 1000C3383.3 1009.5 3395.7 1017.5 3410 1025C3424.3 1032.5 3441 1040.5 3456 1045C3471 1049.5 3486 1049.8 3500 1052C3514 1054.2 3525.8 1056.2 3540 1058C3554.2 1059.8 3571.7 1061.5 3585 1063C3598.3 1064.5 3607.5 1065.5 3620 1067C3632.5 1068.5 3645.8 1070.2 3660 1072C3674.2 1073.8 3692 1076.7 3705 1078C3718 1079.3 3732.5 1079.7 3738 1080" stroke-width="2.8"/>
<path d="M3014 702C3020.2 705 3039 714.8 3051 720C3063 725.2 3074.3 728.3 3086 733C3097.7 737.7 3110.2 741.2 3121 748C3131.8 754.8 3140.2 764.8 3151 774C3161.8 783.2 3175.3 792 3186 803C3196.7 814 3204.3 825.8 3215 840C3225.7 854.2 3239.2 873.8 3250 888C3260.8 902.2 3270 913 3280 925C3290 937 3300 948.3 3310 960C3320 971.7 3330 985 3340 995C3350 1005 3358.2 1011.3 3370 1020C3381.8 1028.7 3398.5 1041 3411 1047C3423.5 1053 3434 1053.5 3445 1056C3456 1058.5 3466.2 1060.5 3477 1062C3487.8 1063.5 3499 1064.2 3510 1065C3521 1065.8 3532.2 1066.2 3543 1067C3553.8 1067.8 3564.5 1069.2 3575 1070C3585.5 1070.8 3595.2 1071.2 3606 1072C3616.8 1072.8 3629.3 1073.8 3640 1075C3650.7 1076.2 3659.2 1077.8 3670 1079C3680.8 1080.2 3694.5 1081.2 3705 1082C3715.5 1082.8 3727.5 1083.7 3733 1084C3738.5 1084.3 3737.2 1084 3738 1084" stroke-width="2.5"/>
<path d="M3014 702C3020.2 705 3039 714.8 3051 720C3063 725.2 3074.3 728.3 3086 733C3097.7 737.7 3110.2 741 3121 748C3131.8 755 3140.2 765.5 3151 775C3161.8 784.5 3177.8 797.2 3186 805C3194.2 812.8 3195.8 812.8 3200 822C3204.2 831.2 3205 846.2 3211 860C3217 873.8 3226.8 891.5 3236 905C3245.2 918.5 3256.8 931 3266 941C3275.2 951 3283.5 956 3291 965C3298.5 974 3304 983.5 3311 995C3318 1006.5 3325.5 1021.5 3333 1034C3340.5 1046.5 3349.7 1061.2 3356 1070C3362.3 1078.8 3364.5 1082.8 3371 1087C3377.5 1091.2 3380.7 1093 3395 1095C3409.3 1097 3436.2 1098.2 3457 1099C3477.8 1099.8 3499.2 1099.5 3520 1100C3540.8 1100.5 3561.5 1100.8 3582 1102C3602.5 1103.2 3623 1105.2 3643 1107C3663 1108.8 3686.2 1111.5 3702 1113C3717.8 1114.5 3732 1115.5 3738 1116" stroke-width="2"/>
</g>
<g fill="#000">
<rect x="3046.7" y="712.4" width="18.6" height="18.6"/>
<rect x="3091.7" y="728.3" width="18.6" height="18.6"/>
<rect x="3136.7" y="756.5" width="18.6" height="18.6"/>
<rect x="3181.7" y="790.7" width="18.6" height="18.6"/>
<rect x="3226.7" y="840.7" width="18.6" height="18.6"/>
<rect x="3271.7" y="882.7" width="18.6" height="18.6"/>
<rect x="3316.7" y="920.7" width="18.6" height="18.6"/>
<rect x="3361.7" y="957.7" width="18.6" height="18.6"/>
<rect x="3406.7" y="982.7" width="18.6" height="18.6"/>
<rect x="3451.7" y="997.7" width="18.6" height="18.6"/>
<rect x="3496.7" y="1002.7" width="18.6" height="18.6"/>
<rect x="3541.7" y="1005.7" width="18.6" height="18.6"/>
<rect x="3586.7" y="1010.7" width="18.6" height="18.6"/>
<rect x="3631.7" y="1015.7" width="18.6" height="18.6"/>
<rect x="3676.7" y="1017.7" width="18.6" height="18.6"/>
<rect x="3721.7" y="1020.7" width="18.6" height="18.6"/>
<circle cx="3016" cy="703" r="10"/>
<circle cx="3076" cy="729.3" r="10"/>
<circle cx="3136" cy="759.5" r="10"/>
<circle cx="3196" cy="812.1" r="10"/>
<circle cx="3256" cy="885" r="10"/>
<circle cx="3316" cy="953.9" r="10"/>
<circle cx="3376" cy="1002.5" r="10"/>
<circle cx="3436" cy="1037" r="10"/>
<circle cx="3496" cy="1047" r="10"/>
<circle cx="3556" cy="1052.7" r="10"/>
<circle cx="3616" cy="1059" r="10"/>
<circle cx="3676" cy="1067.8" r="10"/>
<circle cx="3736" cy="1074.8" r="10"/>
<polygon points="3026,695.9 3038.2,716.4 3013.8,716.4"/>
<polygon points="3085,720.7 3097.2,741.2 3072.8,741.2"/>
<polygon points="3144,754.3 3156.2,774.8 3131.8,774.8"/>
<polygon points="3203,808 3215.2,828.5 3190.8,828.5"/>
<polygon points="3262,876.6 3274.2,897.1 3249.8,897.1"/>
<polygon points="3321,935.2 3333.2,955.7 3308.8,955.7"/>
<polygon points="3380,976.7 3392.2,997.2 3367.8,997.2"/>
<polygon points="3439,1014 3451.2,1034.5 3426.8,1034.5"/>
<polygon points="3498,1025.2 3510.2,1045.7 3485.8,1045.7"/>
<polygon points="3557,1028.8 3569.2,1049.3 3544.8,1049.3"/>
<polygon points="3616,1034.1 3628.2,1054.6 3603.8,1054.6"/>
<polygon points="3675,1038.5 3687.2,1059 3662.8,1059"/>
<polygon points="3734,1042.8 3746.2,1063.3 3721.8,1063.3"/>
<polygon points="3041,702.6 3053.5,715.1 3041,727.6 3028.5,715.1"/>
<polygon points="3105,728.1 3117.5,740.6 3105,753.1 3092.5,740.6"/>
<polygon points="3169,774.9 3181.5,787.4 3169,799.9 3156.5,787.4"/>
<polygon points="3233,847.6 3245.5,860.1 3233,872.6 3220.5,860.1"/>
<polygon points="3297,924.1 3309.5,936.6 3297,949.1 3284.5,936.6"/>
<polygon points="3361,980.3 3373.5,992.8 3361,1005.3 3348.5,992.8"/>
<polygon points="3425,1019 3437.5,1031.5 3425,1044 3412.5,1031.5"/>
<polygon points="3489,1037.8 3501.5,1050.2 3489,1062.8 3476.5,1050.2"/>
<polygon points="3553,1046.9 3565.5,1059.4 3553,1071.9 3540.5,1059.4"/>
<polygon points="3617,1054.2 3629.5,1066.7 3617,1079.2 3604.5,1066.7"/>
<polygon points="3681,1062.3 3693.5,1074.8 3681,1087.3 3668.5,1074.8"/>
<polygon points="3033,700.3 3035.9,708 3044.1,708.4 3037.7,713.5 3039.8,721.4 3033,716.9 3026.2,721.4 3028.3,713.5 3021.9,708.4 3030.1,708"/>
<polygon points="3096,726.4 3098.9,734.1 3107.1,734.4 3100.7,739.5 3102.8,747.5 3096,742.9 3089.2,747.5 3091.3,739.5 3084.9,734.4 3093.1,734.1"/>
<polygon points="3159,769.7 3161.9,777.4 3170.1,777.8 3163.7,782.9 3165.8,790.8 3159,786.3 3152.2,790.8 3154.3,782.9 3147.9,777.8 3156.1,777.4"/>
<polygon points="3222,838.7 3224.9,846.4 3233.1,846.7 3226.7,851.9 3228.8,859.8 3222,855.2 3215.2,859.8 3217.3,851.9 3210.9,846.7 3219.1,846.4"/>
<polygon points="3285,919.9 3287.9,927.6 3296.1,928 3289.7,933.1 3291.8,941 3285,936.5 3278.2,941 3280.3,933.1 3273.9,928 3282.1,927.6"/>
<polygon points="3348,990.8 3350.9,998.5 3359.1,998.8 3352.7,1003.9 3354.8,1011.8 3348,1007.3 3341.2,1011.8 3343.3,1003.9 3336.9,998.8 3345.1,998.5"/>
<polygon points="3411,1036.1 3413.9,1043.8 3422.1,1044.1 3415.7,1049.3 3417.8,1057.2 3411,1052.6 3404.2,1057.2 3406.3,1049.3 3399.9,1044.1 3408.1,1043.8"/>
<polygon points="3474,1050.5 3476.9,1058.2 3485.1,1058.6 3478.7,1063.7 3480.8,1071.6 3474,1067.1 3467.2,1071.6 3469.3,1063.7 3462.9,1058.6 3471.1,1058.2"/>
<polygon points="3537,1055.7 3539.9,1063.4 3548.1,1063.8 3541.7,1068.9 3543.8,1076.8 3537,1072.3 3530.2,1076.8 3532.3,1068.9 3525.9,1063.8 3534.1,1063.4"/>
<polygon points="3600,1060.7 3602.9,1068.4 3611.1,1068.8 3604.7,1073.9 3606.8,1081.8 3600,1077.3 3593.2,1081.8 3595.3,1073.9 3588.9,1068.8 3597.1,1068.4"/>
<polygon points="3663,1067.2 3665.9,1074.9 3674.1,1075.2 3667.7,1080.3 3669.8,1088.2 3663,1083.7 3656.2,1088.2 3658.3,1080.3 3651.9,1075.2 3660.1,1074.9"/>
<polygon points="3726,1072.6 3728.9,1080.3 3737.1,1080.6 3730.7,1085.8 3732.8,1093.7 3726,1089.1 3719.2,1093.7 3721.3,1085.8 3714.9,1080.6 3723.1,1080.3"/>
<polygon points="3051,709.5 3060.4,714.8 3060.4,725.2 3051,730.5 3041.6,725.2 3041.6,714.8"/>
<polygon points="3121,737.5 3130.4,742.8 3130.4,753.2 3121,758.5 3111.6,753.2 3111.6,742.8"/>
<polygon points="3200,811.5 3209.4,816.8 3209.4,827.2 3200,832.5 3190.6,827.2 3190.6,816.8"/>
<polygon points="3266,930.5 3275.4,935.8 3275.4,946.2 3266,951.5 3256.6,946.2 3256.6,935.8"/>
<polygon points="3333,1023.5 3342.4,1028.8 3342.4,1039.2 3333,1044.5 3323.6,1039.2 3323.6,1028.8"/>
<polygon points="3395,1084.5 3404.4,1089.8 3404.4,1100.2 3395,1105.5 3385.6,1100.2 3385.6,1089.8"/>
<polygon points="3457,1088.5 3466.4,1093.8 3466.4,1104.2 3457,1109.5 3447.6,1104.2 3447.6,1093.8"/>
<polygon points="3520,1089.5 3529.4,1094.8 3529.4,1105.2 3520,1110.5 3510.6,1105.2 3510.6,1094.8"/>
<polygon points="3582,1091.5 3591.4,1096.8 3591.4,1107.2 3582,1112.5 3572.6,1107.2 3572.6,1096.8"/>
<polygon points="3643,1096.5 3652.4,1101.8 3652.4,1112.2 3643,1117.5 3633.6,1112.2 3633.6,1101.8"/>
<polygon points="3702,1102.5 3711.4,1107.8 3711.4,1118.2 3702,1123.5 3692.6,1118.2 3692.6,1107.8"/>
</g>
</g>
<g stroke="#000" fill="none" stroke-linecap="butt">
<line x1="1549.5" y1="1450" x2="1549.5" y2="2673" stroke-width="4"/>
<line x1="1547.5" y1="2671" x2="3120" y2="2671" stroke-width="6"/>
<line x1="1824" y1="2671" x2="1824" y2="2642" stroke-width="5"/>
<line x1="2147" y1="2671" x2="2147" y2="2642" stroke-width="5"/>
<line x1="2471" y1="2671" x2="2471" y2="2642" stroke-width="5"/>
<line x1="2794.5" y1="2671" x2="2794.5" y2="2642" stroke-width="5"/>
<line x1="3117.5" y1="2671" x2="3117.5" y2="2642" stroke-width="5"/>
<line x1="1549.5" y1="1450" x2="1579.5" y2="1450" stroke-width="5"/>
<line x1="1549.5" y1="1553.5" x2="1569.5" y2="1553.5" stroke-width="5"/>
<line x1="1549.5" y1="1756.5" x2="1569.5" y2="1756.5" stroke-width="5"/>
<line x1="1549.5" y1="1959.5" x2="1569.5" y2="1959.5" stroke-width="5"/>
<line x1="1549.5" y1="2162.5" x2="1569.5" y2="2162.5" stroke-width="5"/>
<line x1="1549.5" y1="2365.5" x2="1569.5" y2="2365.5" stroke-width="5"/>
<line x1="1549.5" y1="2568.5" x2="1569.5" y2="2568.5" stroke-width="5"/>
</g>
<text x="1537.9" y="1580" font-size="58" text-anchor="end">0</text>
<text x="1535.5" y="1784" font-size="58" text-anchor="end">−0.1</text>
<text x="1537.9" y="1984" font-size="58" text-anchor="end">−0.2</text>
<text x="1537.9" y="2184" font-size="58" text-anchor="end">−0.3</text>
<text x="1537.9" y="2383.5" font-size="58" text-anchor="end">−0.4</text>
<text x="1537.9" y="2584.5" font-size="58" text-anchor="end">−0.5</text>
<text x="1820" y="2733.5" font-size="58" text-anchor="middle">200</text>
<text x="2154" y="2733.5" font-size="58" text-anchor="middle">400</text>
<text x="2475" y="2733.5" font-size="58" text-anchor="middle">600</text>
<text x="2796" y="2733.5" font-size="58" text-anchor="middle">800</text>
<text x="3102" y="2733.5" font-size="58" text-anchor="middle">1000</text>
<text x="2320" y="2808" font-size="56" text-anchor="middle">温度/<tspan font-family="Noto Serif CJK SC">℃</tspan></text>
<text x="1411" y="2035" font-size="58" text-anchor="middle" transform="rotate(-90 1411 2035)" letter-spacing="0.5">DTG/(mg·min<tspan font-size="36" dy="-22">−1</tspan><tspan dy="22">)</tspan></text>
<text x="1669" y="1467.5" font-size="58" text-anchor="start">c</text>
<clipPath id="c5"><rect x="1547" y="1451" width="1570.5" height="1220"/></clipPath>
<g clip-path="url(#c5)">
<g stroke="#000" fill="none" stroke-linejoin="round" stroke-linecap="round">
<path d="M1549.4 1603.2C1550.7 1607.1 1553.4 1609.5 1557.4 1626.6C1561.5 1643.7 1568.2 1675.6 1573.6 1705.8C1579 1735.9 1584.4 1776.8 1589.8 1807.2C1595.1 1837.7 1600.5 1867.1 1605.9 1888.5C1611.3 1909.8 1616.7 1924 1622.1 1935.1C1627.4 1946.3 1633.6 1951.4 1638.2 1955.4C1642.8 1959.5 1645.5 1961.5 1649.5 1959.5C1653.6 1957.5 1657.6 1950 1662.5 1943.3C1667.3 1936.5 1673.2 1926 1678.6 1918.9C1684 1911.8 1689.4 1905 1694.8 1900.6C1700.1 1896.2 1705.5 1893.9 1710.9 1892.5C1716.3 1891.2 1721.7 1890.8 1727.1 1892.5C1732.5 1894.2 1736.5 1897.9 1743.2 1902.7C1750 1907.4 1759.4 1916.5 1767.5 1920.9C1775.5 1925.3 1783.6 1928 1791.7 1929C1799.8 1930.1 1807.8 1928.7 1815.9 1927C1824 1925.3 1832.1 1919.9 1840.2 1918.9C1848.2 1917.9 1856.3 1916.9 1864.4 1920.9C1872.5 1925 1880.5 1934.1 1888.6 1943.3C1896.7 1952.4 1904.8 1962.2 1912.9 1975.7C1920.9 1989.3 1929 2006.2 1937.1 2024.5C1945.2 2042.7 1953.2 2064 1961.3 2085.4C1969.4 2106.7 1977.5 2132.7 1985.5 2152.3C1993.6 2172 2003.1 2191.6 2009.8 2203.1C2016.5 2214.6 2021.4 2217.6 2025.9 2221.4C2030.5 2225.1 2033.2 2226.4 2037.2 2225.4C2041.3 2224.4 2044 2226.4 2050.2 2215.3C2056.4 2204.1 2066.3 2180.1 2074.4 2158.4C2082.5 2136.8 2090.6 2106.3 2098.6 2085.4C2106.7 2064.4 2114.8 2044.8 2122.9 2032.6C2130.9 2020.4 2139 2015 2147.1 2012.3C2155.2 2009.6 2163.3 2013 2171.3 2016.3C2179.4 2019.7 2187.5 2026.8 2195.6 2032.6C2203.6 2038.3 2213.1 2047.1 2219.8 2050.8C2226.5 2054.6 2230.6 2056.3 2236 2054.9C2241.3 2053.6 2245.4 2051.2 2252.1 2042.7C2258.8 2034.3 2268.3 2019.7 2276.3 2004.2C2284.4 1988.6 2292.5 1966.9 2300.6 1949.3C2308.7 1931.8 2316.7 1909.8 2324.8 1898.6C2332.9 1887.4 2339.6 1886.4 2349 1882.4C2358.5 1878.3 2371.9 1878.6 2381.3 1874.2C2390.8 1869.8 2398.8 1862.4 2405.6 1856C2412.3 1849.5 2415 1847.2 2421.7 1835.7C2428.5 1824.2 2437.9 1804.2 2446 1787C2454 1769.7 2462.1 1749.4 2470.2 1732.1C2478.3 1714.9 2486.4 1697 2494.4 1683.4C2502.5 1669.9 2509.2 1661.8 2518.7 1650.9C2528.1 1640.1 2540.2 1626.9 2551 1618.5C2561.7 1610 2572.5 1604.6 2583.3 1600.2C2594.1 1595.8 2602.1 1592.4 2615.6 1592.1C2629.1 1591.7 2647.9 1595.5 2664.1 1598.2C2680.2 1600.9 2696.4 1603.9 2712.5 1608.3C2728.7 1612.7 2744.8 1622.5 2761 1624.5C2777.1 1626.6 2793.3 1624.2 2809.5 1620.5C2825.6 1616.8 2841.8 1607 2857.9 1602.2C2874.1 1597.5 2890.2 1591.4 2906.4 1592.1C2922.5 1592.7 2938.7 1600.5 2954.8 1606.3C2971 1612 2988.5 1627.9 3003.3 1626.6C3018.1 1625.2 3030.2 1608.6 3043.7 1598.2C3057.2 1587.7 3072 1571.1 3084.1 1563.7C3096.2 1556.2 3111 1555.2 3116.4 1553.5" stroke-width="6"/>
<path d="M1556 1575C1557 1582.5 1558.8 1599.2 1562 1620C1565.2 1640.8 1570.3 1671.7 1575 1700C1579.7 1728.3 1585 1765 1590 1790C1595 1815 1599.7 1835.3 1605 1850C1610.3 1864.7 1615.3 1878 1622 1878C1628.7 1878 1637.8 1859.7 1645 1850C1652.2 1840.3 1657.5 1830 1665 1820C1672.5 1810 1679.7 1798.3 1690 1790C1700.3 1781.7 1715.3 1770 1727 1770C1738.7 1770 1751.2 1775 1760 1790C1768.8 1805 1774.5 1840 1780 1860C1785.5 1880 1784.7 1899.2 1793 1910C1801.3 1920.8 1816.7 1921.7 1830 1925C1843.3 1928.3 1862.2 1917.5 1873 1930C1883.8 1942.5 1888 1973.3 1895 2000C1902 2026.7 1908.3 2063.3 1915 2090C1921.7 2116.7 1928.7 2139 1935 2160C1941.3 2181 1946.3 2191 1953 2216C1959.7 2241 1968 2279.3 1975 2310C1982 2340.7 1989.2 2376.7 1995 2400C2000.8 2423.3 2005 2437.5 2010 2450C2015 2462.5 2020 2475 2025 2475C2030 2475 2035 2465.8 2040 2450C2045 2434.2 2050 2405 2055 2380C2060 2355 2065 2326.7 2070 2300C2075 2273.3 2080.5 2243.3 2085 2220C2089.5 2196.7 2092.8 2178.3 2097 2160C2101.2 2141.7 2105.3 2130 2110 2110C2114.7 2090 2120 2057.5 2125 2040C2130 2022.5 2135 2012.2 2140 2005C2145 1997.8 2149.2 1996.2 2155 1997C2160.8 1997.8 2167.5 2001.2 2175 2010C2182.5 2018.8 2191.7 2035.8 2200 2050C2208.3 2064.2 2216.7 2082.5 2225 2095C2233.3 2107.5 2243.3 2119.5 2250 2125C2256.7 2130.5 2258.3 2135.5 2265 2128C2271.7 2120.5 2280.8 2098 2290 2080C2299.2 2062 2310 2037.5 2320 2020C2330 2002.5 2340.8 1988.3 2350 1975C2359.2 1961.7 2366.7 1951.7 2375 1940C2383.3 1928.3 2389.7 1923.3 2400 1905C2410.3 1886.7 2426.2 1855 2437 1830C2447.8 1805 2454.5 1780 2465 1755C2475.5 1730 2489.5 1699.2 2500 1680C2510.5 1660.8 2520.5 1650 2528 1640C2535.5 1630 2536.3 1625.8 2545 1620C2553.7 1614.2 2567.5 1608.3 2580 1605C2592.5 1601.7 2603 1601.3 2620 1600C2637 1598.7 2663.7 1596.2 2682 1597C2700.3 1597.8 2713.7 1602 2730 1605C2746.3 1608 2765 1612.5 2780 1615C2795 1617.5 2805 1618.3 2820 1620C2835 1621.7 2853.3 1621.7 2870 1625C2886.7 1628.3 2905.2 1636.3 2920 1640C2934.8 1643.7 2945.7 1650.3 2959 1647C2972.3 1643.7 2986.5 1627.8 3000 1620C3013.5 1612.2 3024.7 1607.5 3040 1600C3055.3 1592.5 3079.2 1580.8 3092 1575C3104.8 1569.2 3112.8 1566.7 3117 1565" stroke-width="5.5"/>
<path d="M1556 1495C1556.8 1509.2 1557.8 1547.5 1561 1580C1564.2 1612.5 1570.2 1655.8 1575 1690C1579.8 1724.2 1585 1759.2 1590 1785C1595 1810.8 1599.7 1830 1605 1845C1610.3 1860 1614.5 1875 1622 1875C1629.5 1875 1642 1855.8 1650 1845C1658 1834.2 1662.5 1821.7 1670 1810C1677.5 1798.3 1685.5 1783.8 1695 1775C1704.5 1766.2 1717.8 1757 1727 1757C1736.2 1757 1742.8 1764.5 1750 1775C1757.2 1785.5 1763.7 1804.2 1770 1820C1776.3 1835.8 1779.7 1855.8 1788 1870C1796.3 1884.2 1808 1896.7 1820 1905C1832 1913.3 1849.2 1905.8 1860 1920C1870.8 1934.2 1877.5 1961.7 1885 1990C1892.5 2018.3 1899.2 2061.7 1905 2090C1910.8 2118.3 1915 2140.3 1920 2160C1925 2179.7 1929.2 2186.3 1935 2208C1940.8 2229.7 1948.3 2263 1955 2290C1961.7 2317 1968.3 2345 1975 2370C1981.7 2395 1989.2 2422.5 1995 2440C2000.8 2457.5 2005 2467.3 2010 2475C2015 2482.7 2020 2488.5 2025 2486C2030 2483.5 2035 2476 2040 2460C2045 2444 2050 2416.7 2055 2390C2060 2363.3 2065.5 2326.7 2070 2300C2074.5 2273.3 2078.2 2250.7 2082 2230C2085.8 2209.3 2089.2 2196 2093 2176C2096.8 2156 2100.5 2131 2105 2110C2109.5 2089 2114.2 2065.3 2120 2050C2125.8 2034.7 2133.8 2024.3 2140 2018C2146.2 2011.7 2150.3 2010 2157 2012C2163.7 2014 2172 2019.5 2180 2030C2188 2040.5 2197.5 2060.8 2205 2075C2212.5 2089.2 2219.7 2104.2 2225 2115C2230.3 2125.8 2231.2 2137.5 2237 2140C2242.8 2142.5 2252 2139.2 2260 2130C2268 2120.8 2275.8 2101.7 2285 2085C2294.2 2068.3 2305 2046.7 2315 2030C2325 2013.3 2335 1997.5 2345 1985C2355 1972.5 2364.8 1970.8 2375 1955C2385.2 1939.2 2396.7 1913.3 2406 1890C2415.3 1866.7 2421.8 1839.2 2431 1815C2440.2 1790.8 2450.3 1768.3 2461 1745C2471.7 1721.7 2485.2 1695 2495 1675C2504.8 1655 2509.2 1637.5 2520 1625C2530.8 1612.5 2545 1605 2560 1600C2575 1595 2593.3 1595 2610 1595C2626.7 1595 2641.7 1598.3 2660 1600C2678.3 1601.7 2700.2 1605.5 2720 1605C2739.8 1604.5 2760.7 1595.3 2779 1597C2797.3 1598.7 2814.8 1609.5 2830 1615C2845.2 1620.5 2857.2 1625.5 2870 1630C2882.8 1634.5 2893.7 1641.2 2907 1642C2920.3 1642.8 2934.5 1639.5 2950 1635C2965.5 1630.5 2984.2 1620.8 3000 1615C3015.8 1609.2 3030 1605.8 3045 1600C3060 1594.2 3078 1585 3090 1580C3102 1575 3112.5 1571.7 3117 1570" stroke-width="5.3"/>
<path d="M1558 1471C1558.7 1487.5 1559.2 1534.3 1562 1570C1564.8 1605.7 1570.3 1650 1575 1685C1579.7 1720 1585 1754.2 1590 1780C1595 1805.8 1599.7 1825 1605 1840C1610.3 1855 1613.7 1871.7 1622 1870C1630.3 1868.3 1646.2 1842.5 1655 1830C1663.8 1817.5 1667.5 1807 1675 1795C1682.5 1783 1691.2 1767.2 1700 1758C1708.8 1748.8 1718.8 1740.5 1728 1740C1737.2 1739.5 1747.2 1747.5 1755 1755C1762.8 1762.5 1767.8 1775 1775 1785C1782.2 1795 1790.5 1802.5 1798 1815C1805.5 1827.5 1811.3 1845 1820 1860C1828.7 1875 1841.2 1890 1850 1905C1858.8 1920 1866.3 1927.5 1873 1950C1879.7 1972.5 1883.8 2008.3 1890 2040C1896.2 2071.7 1903.3 2110 1910 2140C1916.7 2170 1922.5 2192.8 1930 2220C1937.5 2247.2 1947.5 2274.7 1955 2303C1962.5 2331.3 1968.3 2362.2 1975 2390C1981.7 2417.8 1989.2 2450 1995 2470C2000.8 2490 2005 2500.8 2010 2510C2015 2519.2 2020 2528.3 2025 2525C2030 2521.7 2035 2510.8 2040 2490C2045 2469.2 2050.3 2430 2055 2400C2059.7 2370 2063.8 2338.3 2068 2310C2072.2 2281.7 2076 2256.7 2080 2230C2084 2203.3 2087.8 2174.2 2092 2150C2096.2 2125.8 2100.3 2101.7 2105 2085C2109.7 2068.3 2113.3 2058.3 2120 2050C2126.7 2041.7 2136.7 2035.8 2145 2035C2153.3 2034.2 2160.8 2037.5 2170 2045C2179.2 2052.5 2190 2069.2 2200 2080C2210 2090.8 2219.7 2102.5 2230 2110C2240.3 2117.5 2252 2127.5 2262 2125C2272 2122.5 2280.3 2107.5 2290 2095C2299.7 2082.5 2310 2065.8 2320 2050C2330 2034.2 2340 2020 2350 2000C2360 1980 2371.3 1951.7 2380 1930C2388.7 1908.3 2393.7 1891.7 2402 1870C2410.3 1848.3 2420.3 1823.3 2430 1800C2439.7 1776.7 2449.2 1752.5 2460 1730C2470.8 1707.5 2483.3 1683.3 2495 1665C2506.7 1646.7 2520.8 1630.8 2530 1620C2539.2 1609.2 2538.3 1605 2550 1600C2561.7 1595 2583.3 1590.8 2600 1590C2616.7 1589.2 2635 1593.3 2650 1595C2665 1596.7 2673.3 1597.5 2690 1600C2706.7 1602.5 2728 1606.3 2750 1610C2772 1613.7 2802 1621.2 2822 1622C2842 1622.8 2853.7 1617 2870 1615C2886.3 1613 2905.2 1611.7 2920 1610C2934.8 1608.3 2944 1606.7 2959 1605C2974 1603.3 2994.8 1603.3 3010 1600C3025.2 1596.7 3035.8 1591.7 3050 1585C3064.2 1578.3 3083.8 1565.8 3095 1560C3106.2 1554.2 3113.3 1551.7 3117 1550" stroke-width="5.2"/>
<path d="M1556 1556C1556.8 1563.3 1557.8 1579.3 1561 1600C1564.2 1620.7 1570.2 1650.8 1575 1680C1579.8 1709.2 1585 1749.2 1590 1775C1595 1800.8 1599.7 1820 1605 1835C1610.3 1850 1616.2 1862.5 1622 1865C1627.8 1867.5 1632.8 1854.2 1640 1850C1647.2 1845.8 1658.3 1850.8 1665 1840C1671.7 1829.2 1674.2 1800.8 1680 1785C1685.8 1769.2 1692.2 1754.3 1700 1745C1707.8 1735.7 1717.8 1729 1727 1729C1736.2 1729 1746.2 1736.5 1755 1745C1763.8 1753.5 1771.5 1770.8 1780 1780C1788.5 1789.2 1797.7 1788.3 1806 1800C1814.3 1811.7 1821.8 1833.3 1830 1850C1838.2 1866.7 1847.8 1883.3 1855 1900C1862.2 1916.7 1867.5 1926.7 1873 1950C1878.5 1973.3 1882.7 2008.3 1888 2040C1893.3 2071.7 1898.8 2108.3 1905 2140C1911.2 2171.7 1916.8 2197.7 1925 2230C1933.2 2262.3 1945.7 2302.3 1954 2334C1962.3 2365.7 1968.2 2392.3 1975 2420C1981.8 2447.7 1988.8 2480 1995 2500C2001.2 2520 2006.7 2531.3 2012 2540C2017.3 2548.7 2022 2555.3 2027 2552C2032 2548.7 2037.3 2540.3 2042 2520C2046.7 2499.7 2050.8 2461.7 2055 2430C2059.2 2398.3 2062.8 2361.7 2067 2330C2071.2 2298.3 2075.7 2268.3 2080 2240C2084.3 2211.7 2088.5 2183.3 2093 2160C2097.5 2136.7 2101.7 2113.7 2107 2100C2112.3 2086.3 2118.3 2082.7 2125 2078C2131.7 2073.3 2139.5 2071.7 2147 2072C2154.5 2072.3 2161.2 2075.3 2170 2080C2178.8 2084.7 2190 2095.8 2200 2100C2210 2104.2 2221.3 2105 2230 2105C2238.7 2105 2243.7 2103.3 2252 2100C2260.3 2096.7 2270.3 2095 2280 2085C2289.7 2075 2300 2055.8 2310 2040C2320 2024.2 2330.8 2005 2340 1990C2349.2 1975 2357 1961.7 2365 1950C2373 1938.3 2380.3 1938.3 2388 1920C2395.7 1901.7 2402.3 1866.7 2411 1840C2419.7 1813.3 2429.2 1785.8 2440 1760C2450.8 1734.2 2463.5 1705.8 2476 1685C2488.5 1664.2 2502.7 1648.3 2515 1635C2527.3 1621.7 2535.8 1610.8 2550 1605C2564.2 1599.2 2585 1599.2 2600 1600C2615 1600.8 2623.3 1608 2640 1610C2656.7 1612 2680 1612.3 2700 1612C2720 1611.7 2740 1608 2760 1608C2780 1608 2800 1610.3 2820 1612C2840 1613.7 2861.7 1615.8 2880 1618C2898.3 1620.2 2911.7 1625.5 2930 1625C2948.3 1624.5 2975 1619.2 2990 1615C3005 1610.8 3010 1604.7 3020 1600C3030 1595.3 3038.3 1592 3050 1587C3061.7 1582 3078.8 1574.5 3090 1570C3101.2 1565.5 3112.5 1561.7 3117 1560" stroke-width="4.7"/>
<path d="M1556 1525C1556.8 1534.2 1557.8 1554.2 1561 1580C1564.2 1605.8 1570.2 1648.3 1575 1680C1579.8 1711.7 1585 1745 1590 1770C1595 1795 1600 1815.8 1605 1830C1610 1844.2 1615 1852.5 1620 1855C1625 1857.5 1630.5 1851.7 1635 1845C1639.5 1838.3 1643.3 1823 1647 1815C1650.7 1807 1649.8 1811.2 1657 1797C1664.2 1782.8 1681.2 1747 1690 1730C1698.8 1713 1704.2 1703.2 1710 1695C1715.8 1686.8 1719.2 1683.2 1725 1681C1730.8 1678.8 1736.5 1682.2 1745 1682C1753.5 1681.8 1766.5 1681 1776 1680C1785.5 1679 1795.5 1674 1802 1676C1808.5 1678 1810.8 1683 1815 1692C1819.2 1701 1822.8 1715.3 1827 1730C1831.2 1744.7 1835.8 1765.5 1840 1780C1844.2 1794.5 1848.3 1805.3 1852 1817C1855.7 1828.7 1858.7 1836.2 1862 1850C1865.3 1863.8 1869 1881.7 1872 1900C1875 1918.3 1877.3 1935 1880 1960C1882.7 1985 1885.5 2021.7 1888 2050C1890.5 2078.3 1893 2105 1895 2130C1897 2155 1896.8 2169.7 1900 2200C1903.2 2230.3 1910.3 2278.7 1914 2312C1917.7 2345.3 1918.5 2372.8 1922 2400C1925.5 2427.2 1930.3 2454.2 1935 2475C1939.7 2495.8 1945 2511.8 1950 2525C1955 2538.2 1960 2552 1965 2554C1970 2556 1975.5 2546 1980 2537C1984.5 2528 1987.8 2514.5 1992 2500C1996.2 2485.5 2000.3 2466.7 2005 2450C2009.7 2433.3 2015 2415.8 2020 2400C2025 2384.2 2029.7 2370.8 2035 2355C2040.3 2339.2 2047.5 2322.5 2052 2305C2056.5 2287.5 2058.2 2267.5 2062 2250C2065.8 2232.5 2070.8 2220.8 2075 2200C2079.2 2179.2 2083.3 2150 2087 2125C2090.7 2100 2094 2070.8 2097 2050C2100 2029.2 2102 2013.8 2105 2000C2108 1986.2 2110.8 1975.5 2115 1967C2119.2 1958.5 2124.2 1952.3 2130 1949C2135.8 1945.7 2141 1944 2150 1947C2159 1950 2175.7 1959 2184 1967C2192.3 1975 2194.8 1984.5 2200 1995C2205.2 2005.5 2210 2016.7 2215 2030C2220 2043.3 2225 2061.3 2230 2075C2235 2088.7 2240 2097.5 2245 2112C2250 2126.5 2255 2145.3 2260 2162C2265 2178.7 2270 2196.5 2275 2212C2280 2227.5 2285 2244.5 2290 2255C2295 2265.5 2300.8 2273 2305 2275C2309.2 2277 2310.8 2273.3 2315 2267C2319.2 2260.7 2325 2252.3 2330 2237C2335 2221.7 2339.7 2202 2345 2175C2350.3 2148 2357 2104.2 2362 2075C2367 2045.8 2371.2 2020.8 2375 2000C2378.8 1979.2 2381.7 1966.7 2385 1950C2388.3 1933.3 2391.5 1916.7 2395 1900C2398.5 1883.3 2401.8 1870.8 2406 1850C2410.2 1829.2 2414.5 1800.7 2420 1775C2425.5 1749.3 2434 1713.5 2439 1696C2444 1678.5 2446.2 1679.8 2450 1670C2453.8 1660.2 2457.8 1645.8 2462 1637C2466.2 1628.2 2470.3 1621.7 2475 1617C2479.7 1612.3 2484.7 1610.2 2490 1609C2495.3 1607.8 2500.3 1611.5 2507 1610C2513.7 1608.5 2520.3 1606.3 2530 1600C2539.7 1593.7 2553.3 1577.8 2565 1572C2576.7 1566.2 2587.5 1567 2600 1565C2612.5 1563 2625.8 1559.5 2640 1560C2654.2 1560.5 2671.7 1567.7 2685 1568C2698.3 1568.3 2709.2 1561.3 2720 1562C2730.8 1562.7 2738.8 1572 2750 1572C2761.2 1572 2777 1562.3 2787 1562C2797 1561.7 2799.5 1569.2 2810 1570C2820.5 1570.8 2840 1569.2 2850 1567C2860 1564.8 2861.7 1556.2 2870 1557C2878.3 1557.8 2889.8 1570.7 2900 1572C2910.2 1573.3 2920.7 1567.5 2931 1565C2941.3 1562.5 2950.5 1555.8 2962 1557C2973.5 1558.2 2989.5 1571.5 3000 1572C3010.5 1572.5 3016.8 1564.2 3025 1560C3033.2 1555.8 3037.5 1550 3049 1547C3060.5 1544 3082.7 1543.2 3094 1542C3105.3 1540.8 3113.2 1540.3 3117 1540" stroke-width="4"/>
</g>
<g fill="#000">
<rect x="1530.8" y="1584.6" width="37.2" height="37.2"/>
<rect x="1611.5" y="1926.7" width="37.2" height="37.2"/>
<rect x="1692.3" y="1873.9" width="37.2" height="37.2"/>
<rect x="1773.1" y="1910.5" width="37.2" height="37.2"/>
<rect x="1853.9" y="1909.8" width="37.2" height="37.2"/>
<rect x="1934.6" y="2046.5" width="37.2" height="37.2"/>
<rect x="2015.4" y="2205.7" width="37.2" height="37.2"/>
<rect x="2096.2" y="2031.6" width="37.2" height="37.2"/>
<rect x="2177" y="2014" width="37.2" height="37.2"/>
<rect x="2257.7" y="1985.6" width="37.2" height="37.2"/>
<rect x="2338.5" y="1861.7" width="37.2" height="37.2"/>
<rect x="2419.3" y="1784.6" width="37.2" height="37.2"/>
<rect x="2500.1" y="1632.3" width="37.2" height="37.2"/>
<rect x="2580.8" y="1577.5" width="37.2" height="37.2"/>
<rect x="2661.6" y="1582.9" width="37.2" height="37.2"/>
<rect x="2742.4" y="1606" width="37.2" height="37.2"/>
<rect x="2823.2" y="1589.7" width="37.2" height="37.2"/>
<rect x="2903.9" y="1578.2" width="37.2" height="37.2"/>
<rect x="2984.7" y="1608" width="37.2" height="37.2"/>
<rect x="3065.5" y="1545.1" width="37.2" height="37.2"/>
<circle cx="1556" cy="1575" r="20"/>
<circle cx="1645" cy="1850" r="20"/>
<circle cx="1793" cy="1910" r="20"/>
<circle cx="1953" cy="2216" r="20"/>
<circle cx="2110" cy="2110" r="20"/>
<circle cx="2265" cy="2128" r="20"/>
<circle cx="2400" cy="1905" r="20"/>
<circle cx="2545" cy="1620" r="20"/>
<circle cx="2682" cy="1597" r="20"/>
<circle cx="2820" cy="1620" r="20"/>
<circle cx="2959" cy="1647" r="20"/>
<circle cx="3092" cy="1575" r="20"/>
<polygon points="1556,1471.2 1580.5,1512.2 1531.5,1512.2"/>
<polygon points="1650,1821.2 1674.5,1862.2 1625.5,1862.2"/>
<polygon points="1788,1846.2 1812.5,1887.2 1763.5,1887.2"/>
<polygon points="1935,2184.2 1959.5,2225.2 1910.5,2225.2"/>
<polygon points="2093,2152.2 2117.5,2193.2 2068.5,2193.2"/>
<polygon points="2237,2116.2 2261.5,2157.2 2212.5,2157.2"/>
<polygon points="2375,1931.2 2399.5,1972.2 2350.5,1972.2"/>
<polygon points="2520,1601.2 2544.5,1642.2 2495.5,1642.2"/>
<polygon points="2660,1576.2 2684.5,1617.2 2635.5,1617.2"/>
<polygon points="2779,1573.2 2803.5,1614.2 2754.5,1614.2"/>
<polygon points="2907,1618.2 2931.5,1659.2 2882.5,1659.2"/>
<polygon points="3045,1576.2 3069.5,1617.2 3020.5,1617.2"/>
<polygon points="1558,1446 1583,1471 1558,1496 1533,1471"/>
<polygon points="1655,1805 1680,1830 1655,1855 1630,1830"/>
<polygon points="1798,1790 1823,1815 1798,1840 1773,1815"/>
<polygon points="1955,2278 1980,2303 1955,2328 1930,2303"/>
<polygon points="2105,2060 2130,2085 2105,2110 2080,2085"/>
<polygon points="2262,2100 2287,2125 2262,2150 2237,2125"/>
<polygon points="2402,1845 2427,1870 2402,1895 2377,1870"/>
<polygon points="2550,1575 2575,1600 2550,1625 2525,1600"/>
<polygon points="2690,1575 2715,1600 2690,1625 2665,1600"/>
<polygon points="2822,1597 2847,1622 2822,1647 2797,1622"/>
<polygon points="2959,1580 2984,1605 2959,1630 2934,1605"/>
<polygon points="3095,1535 3120,1560 3095,1585 3070,1560"/>
<polygon points="1556,1534.2 1561.8,1549.6 1578.2,1550.3 1565.3,1560.5 1569.7,1576.4 1556,1567.3 1542.3,1576.4 1546.7,1560.5 1533.8,1550.3 1550.2,1549.6"/>
<polygon points="1665,1818.2 1670.8,1833.6 1687.2,1834.3 1674.3,1844.5 1678.7,1860.4 1665,1851.3 1651.3,1860.4 1655.7,1844.5 1642.8,1834.3 1659.2,1833.6"/>
<polygon points="1806,1778.2 1811.8,1793.6 1828.2,1794.3 1815.3,1804.5 1819.7,1820.4 1806,1811.3 1792.3,1820.4 1796.7,1804.5 1783.8,1794.3 1800.2,1793.6"/>
<polygon points="1954,2312.2 1959.8,2327.6 1976.2,2328.3 1963.3,2338.5 1967.7,2354.4 1954,2345.3 1940.3,2354.4 1944.7,2338.5 1931.8,2328.3 1948.2,2327.6"/>
<polygon points="2107,2078.2 2112.8,2093.6 2129.2,2094.3 2116.3,2104.5 2120.7,2120.4 2107,2111.3 2093.3,2120.4 2097.7,2104.5 2084.8,2094.3 2101.2,2093.6"/>
<polygon points="2252,2078.2 2257.8,2093.6 2274.2,2094.3 2261.3,2104.5 2265.7,2120.4 2252,2111.3 2238.3,2120.4 2242.7,2104.5 2229.8,2094.3 2246.2,2093.6"/>
<polygon points="2388,1898.2 2393.8,1913.6 2410.2,1914.3 2397.3,1924.5 2401.7,1940.4 2388,1931.3 2374.3,1940.4 2378.7,1924.5 2365.8,1914.3 2382.2,1913.6"/>
<polygon points="2515,1613.2 2520.8,1628.6 2537.2,1629.3 2524.3,1639.5 2528.7,1655.4 2515,1646.3 2501.3,1655.4 2505.7,1639.5 2492.8,1629.3 2509.2,1628.6"/>
<polygon points="2640,1588.2 2645.8,1603.6 2662.2,1604.3 2649.3,1614.5 2653.7,1630.4 2640,1621.3 2626.3,1630.4 2630.7,1614.5 2617.8,1604.3 2634.2,1603.6"/>
<polygon points="2760,1586.2 2765.8,1601.6 2782.2,1602.3 2769.3,1612.5 2773.7,1628.4 2760,1619.3 2746.3,1628.4 2750.7,1612.5 2737.8,1602.3 2754.2,1601.6"/>
<polygon points="2880,1596.2 2885.8,1611.6 2902.2,1612.3 2889.3,1622.5 2893.7,1638.4 2880,1629.3 2866.3,1638.4 2870.7,1622.5 2857.8,1612.3 2874.2,1611.6"/>
<polygon points="2990,1593.2 2995.8,1608.6 3012.2,1609.3 2999.3,1619.5 3003.7,1635.4 2990,1626.3 2976.3,1635.4 2980.7,1619.5 2967.8,1609.3 2984.2,1608.6"/>
<polygon points="3050,1565.2 3055.8,1580.6 3072.2,1581.3 3059.3,1591.5 3063.7,1607.4 3050,1598.3 3036.3,1607.4 3040.7,1591.5 3027.8,1581.3 3044.2,1580.6"/>
<polygon points="1556,1504 1574.7,1514.5 1574.7,1535.5 1556,1546 1537.3,1535.5 1537.3,1514.5"/>
<polygon points="1647,1794 1665.7,1804.5 1665.7,1825.5 1647,1836 1628.3,1825.5 1628.3,1804.5"/>
<polygon points="1776,1659 1794.7,1669.5 1794.7,1690.5 1776,1701 1757.3,1690.5 1757.3,1669.5"/>
<polygon points="1914,2291 1932.7,2301.5 1932.7,2322.5 1914,2333 1895.3,2322.5 1895.3,2301.5"/>
<polygon points="2052,2284 2070.7,2294.5 2070.7,2315.5 2052,2326 2033.3,2315.5 2033.3,2294.5"/>
<polygon points="2184,1946 2202.7,1956.5 2202.7,1977.5 2184,1988 2165.3,1977.5 2165.3,1956.5"/>
<polygon points="2315,2246 2333.7,2256.5 2333.7,2277.5 2315,2288 2296.3,2277.5 2296.3,2256.5"/>
<polygon points="2439,1675 2457.7,1685.5 2457.7,1706.5 2439,1717 2420.3,1706.5 2420.3,1685.5"/>
<polygon points="2565,1551 2583.7,1561.5 2583.7,1582.5 2565,1593 2546.3,1582.5 2546.3,1561.5"/>
<polygon points="2685,1547 2703.7,1557.5 2703.7,1578.5 2685,1589 2666.3,1578.5 2666.3,1557.5"/>
<polygon points="2810,1549 2828.7,1559.5 2828.7,1580.5 2810,1591 2791.3,1580.5 2791.3,1559.5"/>
<polygon points="2931,1544 2949.7,1554.5 2949.7,1575.5 2931,1586 2912.3,1575.5 2912.3,1554.5"/>
<polygon points="3049,1526 3067.7,1536.5 3067.7,1557.5 3049,1568 3030.3,1557.5 3030.3,1536.5"/>
<polygon points="3094,1521 3112.7,1531.5 3112.7,1552.5 3094,1563 3075.3,1552.5 3075.3,1531.5"/>
</g>
</g>
<g stroke="#000" fill="none">
<line x1="2706" y1="1789" x2="2788" y2="1789" stroke-width="4.7"/>
<line x1="2706" y1="1846.5" x2="2788" y2="1846.5" stroke-width="4.7"/>
<line x1="2706" y1="1905" x2="2788" y2="1905" stroke-width="4.7"/>
<line x1="2706" y1="1961" x2="2788" y2="1961" stroke-width="4.7"/>
<line x1="2702" y1="2019" x2="2792" y2="2019" stroke-width="2.8"/>
<line x1="2702" y1="2082.5" x2="2792" y2="2082.5" stroke-width="2.8"/>
</g>
<g fill="#000">
<rect x="2732.9" y="1774.9" width="28.3" height="28.3"/>
<circle cx="2747" cy="1846.5" r="15.2"/>
<polygon points="2747,1886.9 2765.6,1918.1 2728.4,1918.1"/>
<polygon points="2747,1942 2766,1961 2747,1980 2728,1961"/>
<polygon points="2747,2002.4 2751.4,2014.1 2763.8,2014.7 2754.1,2022.4 2757.4,2034.5 2747,2027.6 2736.6,2034.5 2739.9,2022.4 2730.2,2014.7 2742.6,2014.1"/>
<polygon points="2747,2066.5 2761.2,2074.5 2761.2,2090.5 2747,2098.5 2732.8,2090.5 2732.8,2074.5"/>
</g>
<text x="2808.5" y="1809" font-size="58" text-anchor="start">YR100%</text>
<text x="2808.5" y="1867.5" font-size="58" text-anchor="start">YR90%+ZZ10%</text>
<text x="2808.5" y="1925" font-size="58" text-anchor="start">YR80%+ZZ20%</text>
<text x="2808.5" y="1983.5" font-size="58" text-anchor="start">YR60%+ZZ40%</text>
<text x="2808.5" y="2041" font-size="58" text-anchor="start">YR50%+ZZ50%</text>
<text x="2804.5" y="2100" font-size="58" text-anchor="start">LJ100%</text>
<g stroke="#000" fill="none" stroke-linecap="butt">
<line x1="2476" y1="2083.5" x2="2476" y2="2532.2" stroke-width="4.5"/>
<line x1="2473.8" y1="2530" x2="3148.2" y2="2530" stroke-width="4.5"/>
<line x1="2592" y1="2530" x2="2592" y2="2509" stroke-width="4"/>
<line x1="2730" y1="2530" x2="2730" y2="2509" stroke-width="4"/>
<line x1="2868.5" y1="2530" x2="2868.5" y2="2509" stroke-width="4"/>
<line x1="3007.5" y1="2530" x2="3007.5" y2="2509" stroke-width="4"/>
<line x1="3145" y1="2530" x2="3145" y2="2509" stroke-width="4"/>
<line x1="2476" y1="2156" x2="2493" y2="2156" stroke-width="4"/>
<line x1="2476" y1="2218.3" x2="2493" y2="2218.3" stroke-width="4"/>
<line x1="2476" y1="2280.6" x2="2493" y2="2280.6" stroke-width="4"/>
<line x1="2476" y1="2342.9" x2="2493" y2="2342.9" stroke-width="4"/>
<line x1="2476" y1="2405.2" x2="2493" y2="2405.2" stroke-width="4"/>
<line x1="2476" y1="2467.5" x2="2493" y2="2467.5" stroke-width="4"/>
</g>
<text x="2466" y="2107" font-size="42" text-anchor="end">100%</text>
<text x="2466" y="2170" font-size="42" text-anchor="end">90%</text>
<text x="2466" y="2233.5" font-size="42" text-anchor="end">80%</text>
<text x="2466" y="2296" font-size="42" text-anchor="end">70%</text>
<text x="2466" y="2358.5" font-size="42" text-anchor="end">60%</text>
<text x="2466" y="2421.5" font-size="42" text-anchor="end">50%</text>
<text x="2466" y="2483.5" font-size="42" text-anchor="end">40%</text>
<text x="2466" y="2546" font-size="42" text-anchor="end">30%</text>
<text x="2589" y="2575" font-size="42" text-anchor="middle">200</text>
<text x="2734" y="2575" font-size="42" text-anchor="middle">400</text>
<text x="2879" y="2575" font-size="42" text-anchor="middle">600</text>
<text x="3016" y="2575" font-size="42" text-anchor="middle">800</text>
<text x="3152" y="2575" font-size="42" text-anchor="middle">1000</text>
<text x="2805" y="2625" font-size="40" text-anchor="middle">温度/<tspan font-family="Noto Serif CJK SC">℃</tspan></text>
<text x="2371" y="2332" font-size="42" text-anchor="middle" transform="rotate(-90 2371 2332)">TG</text>
<clipPath id="c6"><rect x="2476" y="2050" width="672" height="480"/></clipPath>
<g clip-path="url(#c6)">
<g stroke="#000" fill="none" stroke-linejoin="round" stroke-linecap="round">
<path d="M2476 2093C2481 2095.7 2496 2102.8 2506 2109C2516 2115.2 2526 2124.6 2536 2129.9C2546 2135.2 2556 2136.7 2566 2140.7C2576 2144.8 2586.8 2147.9 2596 2154.4C2605.2 2160.9 2612.7 2170.5 2621 2179.8C2629.3 2189 2638.5 2200.8 2646 2210C2653.5 2219.2 2659.3 2225.8 2666 2235C2672.7 2244.2 2679.3 2255 2686 2264.9C2692.7 2274.9 2698.5 2287.3 2706 2294.7C2713.5 2302.1 2722.7 2302 2731 2309.4C2739.3 2316.7 2746.8 2328.2 2756 2338.8C2765.2 2349.5 2776 2362.5 2786 2373C2796 2383.6 2806 2392.4 2816 2402.1C2826 2411.8 2836.8 2423.8 2846 2431.1C2855.2 2438.5 2862.7 2442.8 2871 2446.4C2879.3 2450 2883.5 2451.3 2896 2452.5C2908.5 2453.7 2929.3 2453.3 2946 2453.7C2962.7 2454.1 2979.3 2454.6 2996 2455C3012.7 2455.4 3029.3 2455.8 3046 2456.2C3062.7 2456.6 3080.2 2456.9 3096 2457.4C3111.8 2457.9 3133.5 2458.7 3141 2459" stroke-width="3"/>
<path d="M2476 2093C2481 2095.6 2496 2102.5 2506 2108.5C2516 2114.5 2526 2123.8 2536 2129C2546 2134.1 2556 2135.4 2566 2139.4C2576 2143.3 2586.8 2146.3 2596 2152.7C2605.2 2159.1 2612.7 2168.7 2621 2177.9C2629.3 2187.1 2638.5 2198.8 2646 2208C2653.5 2217.2 2659.3 2223.8 2666 2233C2672.7 2242.2 2679.3 2253 2686 2263C2692.7 2272.9 2698.5 2285.4 2706 2292.9C2713.5 2300.3 2722.7 2300.3 2731 2307.7C2739.3 2315.1 2746.8 2326.7 2756 2337.4C2765.2 2348.1 2776 2361.3 2786 2372C2796 2382.7 2806 2391.7 2816 2401.6C2826 2411.4 2836.8 2423.3 2846 2431.1C2855.2 2438.8 2862.7 2443.8 2871 2448C2879.3 2452.2 2883.5 2453.8 2896 2456C2908.5 2458.2 2929.3 2459.3 2946 2461C2962.7 2462.7 2979.3 2464.3 2996 2466C3012.7 2467.7 3029.3 2469.3 3046 2471C3062.7 2472.7 3080.2 2474.3 3096 2476C3111.8 2477.7 3133.5 2480.2 3141 2481" stroke-width="3"/>
<path d="M2476 2093C2481 2095.6 2496 2102.7 2506 2108.7C2516 2114.8 2526 2124.2 2536 2129.4C2546 2134.7 2556 2136 2566 2140.1C2576 2144.1 2586.8 2147.1 2596 2153.5C2605.2 2160 2612.7 2169.6 2621 2178.8C2629.3 2188.1 2638.5 2199.8 2646 2209C2653.5 2218.2 2659.3 2224.8 2666 2234C2672.7 2243.2 2679.3 2254 2686 2263.9C2692.7 2273.9 2698.5 2286.4 2706 2293.8C2713.5 2301.2 2722.7 2301.1 2731 2308.5C2739.3 2315.9 2746.8 2327.5 2756 2338.1C2765.2 2348.8 2776 2361.9 2786 2372.5C2796 2383.2 2806 2392.1 2816 2401.8C2826 2411.6 2836.8 2423.3 2846 2431.1C2855.2 2438.9 2862.7 2444.4 2871 2448.9C2879.3 2453.3 2883.5 2455.2 2896 2457.9C2908.5 2460.6 2929.3 2462.6 2946 2465C2962.7 2467.3 2979.3 2469.7 2996 2472C3012.7 2474.4 3029.3 2476.7 3046 2479.1C3062.7 2481.4 3080.2 2483.8 3096 2486.1C3111.8 2488.5 3133.5 2491.9 3141 2493" stroke-width="3"/>
<path d="M2476 2093C2481 2095.4 2496 2101.8 2506 2107.5C2516 2113.2 2526 2122.2 2536 2127C2546 2131.9 2556 2132.9 2566 2136.6C2576 2140.3 2586.8 2143.1 2596 2149.3C2605.2 2155.6 2612.7 2165 2621 2174.1C2629.3 2183.2 2638.5 2194.9 2646 2204C2653.5 2213.2 2659.3 2219.8 2666 2229C2672.7 2238.2 2679.3 2249 2686 2259C2692.7 2269.1 2698.5 2281.6 2706 2289.1C2713.5 2296.7 2722.7 2296.7 2731 2304.3C2739.3 2311.9 2746.8 2323.6 2756 2334.6C2765.2 2345.5 2776 2359 2786 2370C2796 2381 2806 2390.3 2816 2400.4C2826 2410.6 2836.8 2422.9 2846 2430.9C2855.2 2438.9 2862.7 2444.1 2871 2448.4C2879.3 2452.7 2883.5 2454.4 2896 2456.8C2908.5 2459.2 2929.3 2460.7 2946 2462.6C2962.7 2464.6 2979.3 2466.6 2996 2468.5C3012.7 2470.5 3029.3 2472.4 3046 2474.4C3062.7 2476.3 3080.2 2478.3 3096 2480.2C3111.8 2482.2 3133.5 2485 3141 2486" stroke-width="3"/>
<path d="M2476 2093C2481 2095.3 2496 2101.5 2506 2107C2516 2112.5 2526 2121.4 2536 2126.1C2546 2130.8 2556 2131.7 2566 2135.3C2576 2138.8 2586.8 2141.5 2596 2147.6C2605.2 2153.8 2612.7 2163.2 2621 2172.2C2629.3 2181.3 2638.5 2192.9 2646 2202C2653.5 2211.2 2659.3 2217.8 2666 2227C2672.7 2236.2 2679.3 2247 2686 2257.1C2692.7 2267.1 2698.5 2279.7 2706 2287.3C2713.5 2294.9 2722.7 2295 2731 2302.6C2739.3 2310.3 2746.8 2322.1 2756 2333.2C2765.2 2344.2 2776 2357.8 2786 2369C2796 2380.1 2806 2389.6 2816 2399.9C2826 2410.2 2836.8 2422.9 2846 2430.9C2855.2 2438.8 2862.7 2443.4 2871 2447.4C2879.3 2451.4 2883.5 2452.9 2896 2454.7C2908.5 2456.6 2929.3 2457.2 2946 2458.4C2962.7 2459.6 2979.3 2460.8 2996 2462C3012.7 2463.2 3029.3 2464.4 3046 2465.6C3062.7 2466.8 3080.2 2468 3096 2469.2C3111.8 2470.5 3133.5 2472.4 3141 2473" stroke-width="2.5"/>
<path d="M2476 2093C2481 2095.2 2496 2100.8 2506 2106C2516 2111.2 2526 2119.7 2536 2124.1C2546 2128.6 2556 2129.2 2566 2132.5C2576 2135.9 2586.8 2138.2 2596 2144.2C2605.2 2150.2 2612.7 2159.5 2621 2168.5C2629.3 2177.5 2638.5 2189 2646 2198.1C2653.5 2207.2 2659.3 2213.8 2666 2223C2672.7 2232.2 2679.3 2243.1 2686 2253.1C2692.7 2263.2 2698.5 2275.8 2706 2283.5C2713.5 2291.2 2722.7 2291.5 2731 2299.3C2739.3 2307.1 2746.8 2319 2756 2330.3C2765.2 2341.6 2776 2355.5 2786 2366.9C2796 2378.3 2806 2388.1 2816 2398.7C2826 2409.4 2836.8 2423.1 2846 2430.7C2855.2 2438.4 2862.7 2441.8 2871 2444.8C2879.3 2447.9 2883.5 2448.8 2896 2449C2908.5 2449.3 2929.3 2447.3 2946 2446.5C2962.7 2445.6 2979.3 2444.8 2996 2443.9C3012.7 2443.1 3029.3 2442.2 3046 2441.4C3062.7 2440.5 3080.2 2439.5 3096 2438.8C3111.8 2438.1 3133.5 2437.3 3141 2437" stroke-width="2"/>
</g>
<g fill="#000">
<rect x="2490.7" y="2096.5" width="18.6" height="18.6"/>
<rect x="2525.7" y="2119.9" width="18.6" height="18.6"/>
<rect x="2560.7" y="2133.3" width="18.6" height="18.6"/>
<rect x="2595.7" y="2154.2" width="18.6" height="18.6"/>
<rect x="2630.7" y="2193.4" width="18.6" height="18.6"/>
<rect x="2665.7" y="2239.2" width="18.6" height="18.6"/>
<rect x="2700.7" y="2287.8" width="18.6" height="18.6"/>
<rect x="2735.7" y="2316.6" width="18.6" height="18.6"/>
<rect x="2770.7" y="2356.9" width="18.6" height="18.6"/>
<rect x="2805.7" y="2391.9" width="18.6" height="18.6"/>
<rect x="2840.7" y="2424.3" width="18.6" height="18.6"/>
<rect x="2875.7" y="2440.5" width="18.6" height="18.6"/>
<rect x="2910.7" y="2443.8" width="18.6" height="18.6"/>
<rect x="2945.7" y="2444.7" width="18.6" height="18.6"/>
<rect x="2980.7" y="2445.5" width="18.6" height="18.6"/>
<rect x="3015.7" y="2446.4" width="18.6" height="18.6"/>
<rect x="3050.7" y="2447.2" width="18.6" height="18.6"/>
<rect x="3085.7" y="2448.1" width="18.6" height="18.6"/>
<rect x="3120.7" y="2449.3" width="18.6" height="18.6"/>
<circle cx="2520" cy="2118.1" r="10"/>
<circle cx="2590" cy="2150" r="10"/>
<circle cx="2660" cy="2225.5" r="10"/>
<circle cx="2730" cy="2307.1" r="10"/>
<circle cx="2800" cy="2385.8" r="10"/>
<circle cx="2870" cy="2447.3" r="10"/>
<circle cx="2940" cy="2460.4" r="10"/>
<circle cx="3010" cy="2467.4" r="10"/>
<circle cx="3080" cy="2474.4" r="10"/>
<polygon points="2540,2119 2552.2,2139.5 2527.8,2139.5"/>
<polygon points="2595,2141.2 2607.2,2161.7 2582.8,2161.7"/>
<polygon points="2650,2202.1 2662.2,2222.6 2637.8,2222.6"/>
<polygon points="2705,2280.4 2717.2,2300.9 2692.8,2300.9"/>
<polygon points="2760,2330.8 2772.2,2351.3 2747.8,2351.3"/>
<polygon points="2815,2389 2827.2,2409.5 2802.8,2409.5"/>
<polygon points="2870,2436.3 2882.2,2456.8 2857.8,2456.8"/>
<polygon points="2925,2450.1 2937.2,2470.6 2912.8,2470.6"/>
<polygon points="2980,2457.9 2992.2,2478.4 2967.8,2478.4"/>
<polygon points="3035,2465.6 3047.2,2486.1 3022.8,2486.1"/>
<polygon points="3090,2473.4 3102.2,2493.9 3077.8,2493.9"/>
<polygon points="2560,2122.2 2572.5,2134.7 2560,2147.2 2547.5,2134.7"/>
<polygon points="2626,2167.6 2638.5,2180.1 2626,2192.6 2613.5,2180.1"/>
<polygon points="2692,2255.6 2704.5,2268.1 2692,2280.6 2679.5,2268.1"/>
<polygon points="2758,2324.4 2770.5,2336.9 2758,2349.4 2745.5,2336.9"/>
<polygon points="2824,2396.1 2836.5,2408.6 2824,2421.1 2811.5,2408.6"/>
<polygon points="2890,2442.3 2902.5,2454.8 2890,2467.3 2877.5,2454.8"/>
<polygon points="2956,2451.3 2968.5,2463.8 2956,2476.3 2943.5,2463.8"/>
<polygon points="3022,2459.1 3034.5,2471.6 3022,2484.1 3009.5,2471.6"/>
<polygon points="3088,2466.8 3100.5,2479.3 3088,2491.8 3075.5,2479.3"/>
<polygon points="2510,2098.6 2512.9,2106.3 2521.1,2106.7 2514.7,2111.8 2516.8,2119.7 2510,2115.2 2503.2,2119.7 2505.3,2111.8 2498.9,2106.7 2507.1,2106.3"/>
<polygon points="2562,2123.1 2564.9,2130.8 2573.1,2131.2 2566.7,2136.3 2568.8,2144.2 2562,2139.7 2555.2,2144.2 2557.3,2136.3 2550.9,2131.2 2559.1,2130.8"/>
<polygon points="2614,2154.5 2616.9,2162.1 2625.1,2162.5 2618.7,2167.6 2620.8,2175.5 2614,2171 2607.2,2175.5 2609.3,2167.6 2602.9,2162.5 2611.1,2162.1"/>
<polygon points="2666,2216.1 2668.9,2223.8 2677.1,2224.2 2670.7,2229.3 2672.8,2237.2 2666,2232.6 2659.2,2237.2 2661.3,2229.3 2654.9,2224.2 2663.1,2223.8"/>
<polygon points="2718,2283.7 2720.9,2291.4 2729.1,2291.8 2722.7,2296.9 2724.8,2304.8 2718,2300.3 2711.2,2304.8 2713.3,2296.9 2706.9,2291.8 2715.1,2291.4"/>
<polygon points="2770,2339 2772.9,2346.7 2781.1,2347 2774.7,2352.1 2776.8,2360 2770,2355.5 2763.2,2360 2765.3,2352.1 2758.9,2347 2767.1,2346.7"/>
<polygon points="2822,2395.2 2824.9,2402.9 2833.1,2403.2 2826.7,2408.3 2828.8,2416.2 2822,2411.7 2815.2,2416.2 2817.3,2408.3 2810.9,2403.2 2819.1,2402.9"/>
<polygon points="2874,2437.4 2876.9,2445.1 2885.1,2445.5 2878.7,2450.6 2880.8,2458.5 2874,2453.9 2867.2,2458.5 2869.3,2450.6 2862.9,2445.5 2871.1,2445.1"/>
<polygon points="2926,2446 2928.9,2453.7 2937.1,2454.1 2930.7,2459.2 2932.8,2467.1 2926,2462.6 2919.2,2467.1 2921.3,2459.2 2914.9,2454.1 2923.1,2453.7"/>
<polygon points="2978,2449.8 2980.9,2457.5 2989.1,2457.8 2982.7,2462.9 2984.8,2470.9 2978,2466.3 2971.2,2470.9 2973.3,2462.9 2966.9,2457.8 2975.1,2457.5"/>
<polygon points="3030,2453.6 3032.9,2461.2 3041.1,2461.6 3034.7,2466.7 3036.8,2474.6 3030,2470.1 3023.2,2474.6 3025.3,2466.7 3018.9,2461.6 3027.1,2461.2"/>
<polygon points="3082,2457.3 3084.9,2465 3093.1,2465.4 3086.7,2470.5 3088.8,2478.4 3082,2473.9 3075.2,2478.4 3077.3,2470.5 3070.9,2465.4 3079.1,2465"/>
<polygon points="3134,2461.5 3136.9,2469.2 3145.1,2469.6 3138.7,2474.7 3140.8,2482.6 3134,2478.1 3127.2,2482.6 3129.3,2474.7 3122.9,2469.6 3131.1,2469.2"/>
<polygon points="2506,2095.5 2515.4,2100.8 2515.4,2111.3 2506,2116.5 2496.6,2111.3 2496.6,2100.8"/>
<polygon points="2568,2122.8 2577.4,2128 2577.4,2138.5 2568,2143.8 2558.6,2138.5 2558.6,2128"/>
<polygon points="2630,2168.6 2639.4,2173.9 2639.4,2184.4 2630,2189.6 2620.6,2184.4 2620.6,2173.9"/>
<polygon points="2692,2251.8 2701.4,2257 2701.4,2267.5 2692,2272.8 2682.6,2267.5 2682.6,2257"/>
<polygon points="2754,2317.3 2763.4,2322.6 2763.4,2333.1 2754,2338.3 2744.6,2333.1 2744.6,2322.6"/>
<polygon points="2816,2388.2 2825.4,2393.5 2825.4,2404 2816,2409.2 2806.6,2404 2806.6,2393.5"/>
<polygon points="2878,2435.5 2887.4,2440.8 2887.4,2451.3 2878,2456.5 2868.6,2451.3 2868.6,2440.8"/>
<polygon points="2940,2436.3 2949.4,2441.5 2949.4,2452 2940,2457.3 2930.6,2452 2930.6,2441.5"/>
<polygon points="3002,2433.1 3011.4,2438.4 3011.4,2448.9 3002,2454.1 2992.6,2448.9 2992.6,2438.4"/>
<polygon points="3064,2429.9 3073.4,2435.2 3073.4,2445.7 3064,2450.9 3054.6,2445.7 3054.6,2435.2"/>
<polygon points="3126,2427.1 3135.4,2432.4 3135.4,2442.9 3126,2448.1 3116.6,2442.9 3116.6,2432.4"/>
</g>
</g>
</svg>
</body>
</html>
